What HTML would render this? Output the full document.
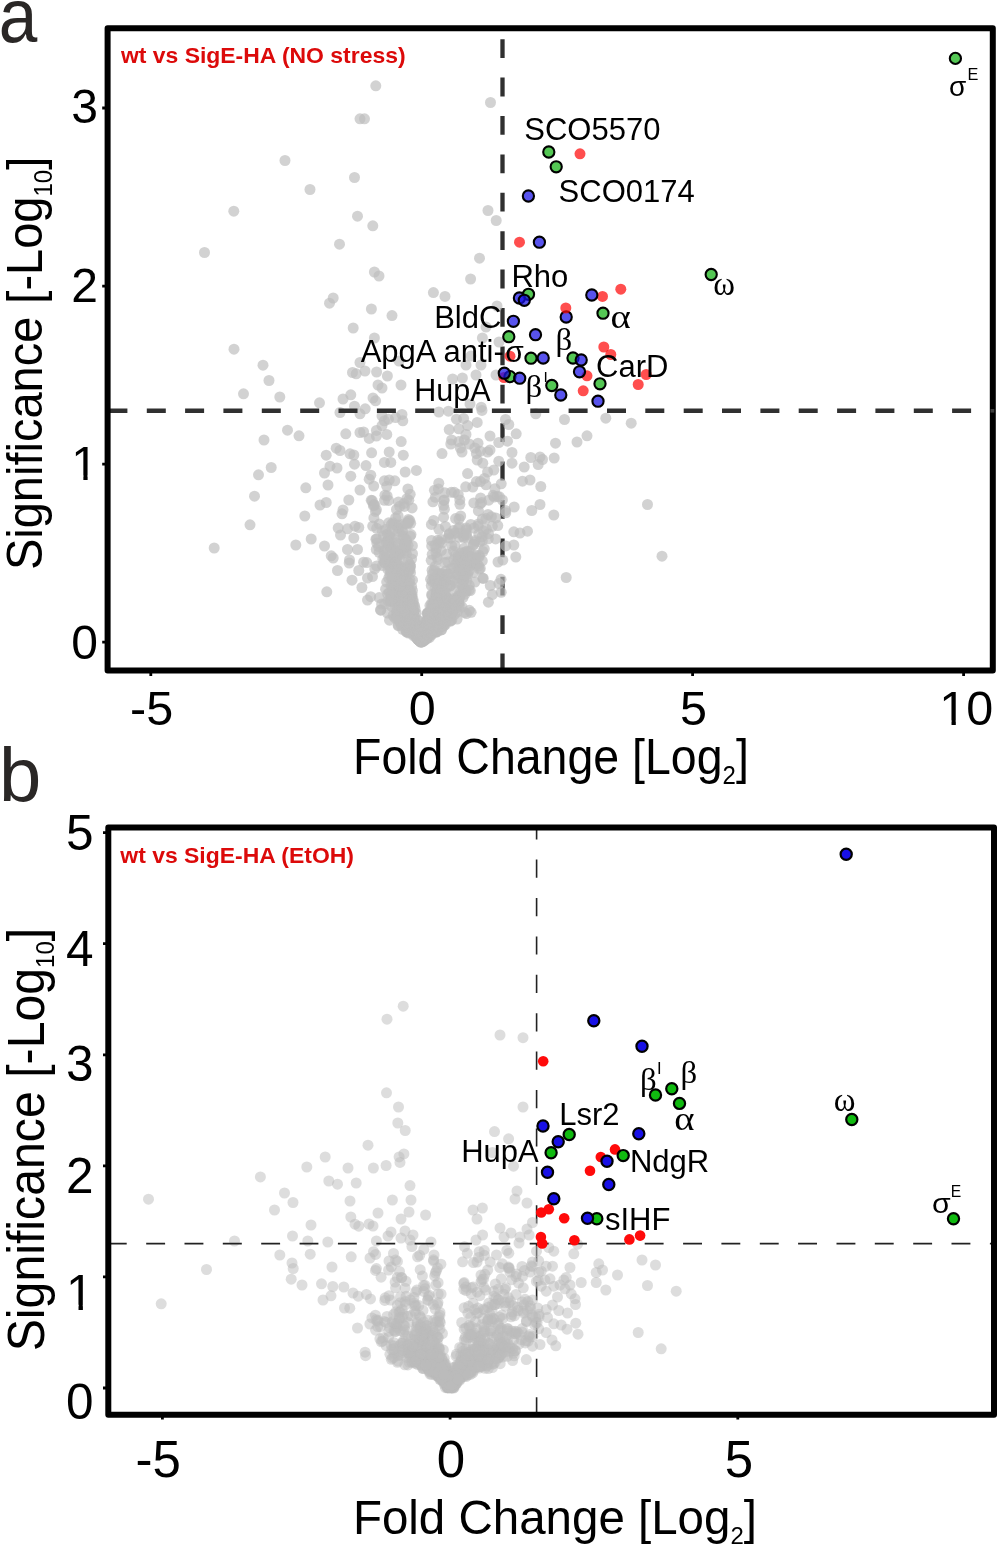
<!DOCTYPE html>
<html lang="en"><head><meta charset="utf-8"><title>Volcano plots: wt vs SigE-HA</title>
<style>html,body{margin:0;padding:0;background:#fff}svg{display:block;will-change:transform}</style></head>
<body><svg width="1000" height="1547" viewBox="0 0 1000 1547">
<rect width="1000" height="1547" fill="#fff"/>
<g id="pa">
<path d="M502.5 39.2V58.0M502.5 77.6V96.4M502.5 116.0V134.8M502.5 154.4V173.2M502.5 192.8V211.6M502.5 231.2V250.0M502.5 269.6V288.4M502.5 308.0V326.8M502.5 346.4V365.2M502.5 384.8V403.6M502.5 423.2V442.0M502.5 461.6V480.4M502.5 500.0V518.8M502.5 538.4V557.2M502.5 576.8V595.6M502.5 615.2V634.0M502.5 653.6V668.0" stroke="#303030" stroke-width="4.3" fill="none"/>
<g fill="#bdbdbd" fill-opacity="0.68"><circle cx="285.0" cy="160.5" r="5.5"/><circle cx="310.0" cy="189.5" r="5.5"/><circle cx="354.5" cy="177.5" r="5.5"/><circle cx="233.8" cy="211.2" r="5.5"/><circle cx="357.5" cy="216.2" r="5.5"/><circle cx="339.5" cy="244.2" r="5.5"/><circle cx="204.5" cy="252.5" r="5.5"/><circle cx="360.0" cy="118.8" r="5.5"/><circle cx="375.8" cy="85.8" r="5.5"/><circle cx="364.5" cy="118.8" r="5.5"/><circle cx="490.5" cy="102.5" r="5.5"/><circle cx="372.8" cy="225.8" r="5.5"/><circle cx="488.0" cy="210.5" r="5.5"/><circle cx="496.2" cy="220.5" r="5.5"/><circle cx="479.5" cy="258.2" r="5.5"/><circle cx="333.2" cy="298.0" r="5.5"/><circle cx="329.5" cy="303.2" r="5.5"/><circle cx="353.2" cy="328.0" r="5.5"/><circle cx="234.0" cy="349.2" r="5.5"/><circle cx="263.0" cy="365.2" r="5.5"/><circle cx="269.0" cy="380.5" r="5.5"/><circle cx="243.5" cy="393.8" r="5.5"/><circle cx="279.8" cy="397.0" r="5.5"/><circle cx="319.5" cy="402.8" r="5.5"/><circle cx="352.5" cy="372.5" r="5.5"/><circle cx="356.2" cy="373.8" r="5.5"/><circle cx="360.0" cy="362.5" r="5.5"/><circle cx="350.8" cy="394.8" r="5.5"/><circle cx="343.0" cy="399.0" r="5.5"/><circle cx="354.5" cy="406.2" r="5.5"/><circle cx="340.0" cy="412.5" r="5.5"/><circle cx="360.0" cy="413.8" r="5.5"/><circle cx="287.5" cy="430.2" r="5.5"/><circle cx="299.0" cy="435.8" r="5.5"/><circle cx="345.8" cy="433.8" r="5.5"/><circle cx="264.0" cy="440.0" r="5.5"/><circle cx="360.0" cy="432.5" r="5.5"/><circle cx="374.4" cy="272.0" r="5.5"/><circle cx="379.0" cy="276.0" r="5.5"/><circle cx="470.6" cy="279.0" r="5.5"/><circle cx="433.4" cy="292.6" r="5.5"/><circle cx="445.0" cy="296.4" r="5.5"/><circle cx="371.4" cy="309.0" r="5.5"/><circle cx="392.0" cy="315.6" r="5.5"/><circle cx="497.0" cy="306.0" r="5.5"/><circle cx="486.0" cy="327.0" r="5.5"/><circle cx="374.4" cy="338.0" r="5.5"/><circle cx="482.4" cy="338.0" r="5.5"/><circle cx="499.0" cy="342.0" r="5.5"/><circle cx="399.0" cy="361.0" r="5.5"/><circle cx="471.0" cy="356.0" r="5.5"/><circle cx="466.0" cy="365.0" r="5.5"/><circle cx="481.0" cy="365.0" r="5.5"/><circle cx="365.0" cy="371.0" r="5.5"/><circle cx="376.6" cy="372.0" r="5.5"/><circle cx="387.4" cy="376.0" r="5.5"/><circle cx="452.6" cy="379.0" r="5.5"/><circle cx="462.4" cy="378.0" r="5.5"/><circle cx="476.0" cy="375.0" r="5.5"/><circle cx="496.0" cy="375.0" r="5.5"/><circle cx="378.0" cy="385.0" r="5.5"/><circle cx="382.0" cy="388.0" r="5.5"/><circle cx="401.0" cy="385.0" r="5.5"/><circle cx="373.0" cy="398.0" r="5.5"/><circle cx="271.2" cy="467.5" r="5.5"/><circle cx="258.5" cy="474.8" r="5.5"/><circle cx="254.5" cy="496.2" r="5.5"/><circle cx="250.0" cy="524.8" r="5.5"/><circle cx="214.2" cy="548.0" r="5.5"/><circle cx="305.8" cy="487.8" r="5.5"/><circle cx="304.8" cy="516.0" r="5.5"/><circle cx="295.8" cy="545.0" r="5.5"/><circle cx="311.2" cy="539.0" r="5.5"/><circle cx="326.2" cy="455.2" r="5.5"/><circle cx="336.2" cy="448.2" r="5.5"/><circle cx="340.0" cy="450.5" r="5.5"/><circle cx="350.0" cy="453.8" r="5.5"/><circle cx="353.8" cy="455.0" r="5.5"/><circle cx="330.0" cy="466.2" r="5.5"/><circle cx="337.0" cy="468.0" r="5.5"/><circle cx="324.5" cy="473.0" r="5.5"/><circle cx="354.5" cy="464.2" r="5.5"/><circle cx="350.8" cy="476.2" r="5.5"/><circle cx="328.0" cy="485.0" r="5.5"/><circle cx="360.0" cy="490.0" r="5.5"/><circle cx="348.8" cy="500.0" r="5.5"/><circle cx="326.2" cy="502.5" r="5.5"/><circle cx="320.0" cy="505.0" r="5.5"/><circle cx="343.0" cy="510.0" r="5.5"/><circle cx="342.0" cy="513.8" r="5.5"/><circle cx="338.2" cy="528.0" r="5.5"/><circle cx="347.5" cy="528.8" r="5.5"/><circle cx="355.0" cy="526.2" r="5.5"/><circle cx="358.8" cy="527.5" r="5.5"/><circle cx="340.5" cy="535.0" r="5.5"/><circle cx="353.8" cy="538.0" r="5.5"/><circle cx="324.5" cy="546.0" r="5.5"/><circle cx="347.5" cy="549.5" r="5.5"/><circle cx="357.5" cy="549.5" r="5.5"/><circle cx="331.2" cy="555.8" r="5.5"/><circle cx="333.2" cy="558.0" r="5.5"/><circle cx="349.5" cy="560.0" r="5.5"/><circle cx="349.2" cy="563.0" r="5.5"/><circle cx="337.5" cy="570.5" r="5.5"/><circle cx="358.8" cy="570.5" r="5.5"/><circle cx="352.0" cy="580.2" r="5.5"/><circle cx="326.8" cy="591.8" r="5.5"/><circle cx="535.8" cy="413.8" r="5.5"/><circle cx="564.5" cy="419.5" r="5.5"/><circle cx="605.8" cy="418.2" r="5.5"/><circle cx="631.2" cy="423.2" r="5.5"/><circle cx="505.5" cy="419.5" r="5.5"/><circle cx="508.8" cy="424.5" r="5.5"/><circle cx="516.2" cy="433.8" r="5.5"/><circle cx="490.0" cy="436.0" r="5.5"/><circle cx="498.8" cy="442.5" r="5.5"/><circle cx="507.5" cy="441.2" r="5.5"/><circle cx="555.5" cy="443.2" r="5.5"/><circle cx="577.0" cy="442.0" r="5.5"/><circle cx="587.0" cy="435.8" r="5.5"/><circle cx="512.0" cy="452.5" r="5.5"/><circle cx="490.0" cy="450.0" r="5.5"/><circle cx="530.8" cy="457.5" r="5.5"/><circle cx="540.0" cy="457.0" r="5.5"/><circle cx="542.5" cy="459.5" r="5.5"/><circle cx="554.2" cy="458.0" r="5.5"/><circle cx="512.0" cy="463.2" r="5.5"/><circle cx="498.8" cy="461.2" r="5.5"/><circle cx="524.2" cy="467.0" r="5.5"/><circle cx="538.2" cy="464.5" r="5.5"/><circle cx="493.8" cy="470.0" r="5.5"/><circle cx="522.5" cy="481.2" r="5.5"/><circle cx="530.0" cy="480.0" r="5.5"/><circle cx="501.2" cy="483.8" r="5.5"/><circle cx="540.8" cy="486.5" r="5.5"/><circle cx="514.2" cy="507.0" r="5.5"/><circle cx="531.8" cy="510.5" r="5.5"/><circle cx="540.0" cy="504.5" r="5.5"/><circle cx="553.8" cy="515.0" r="5.5"/><circle cx="647.5" cy="504.5" r="5.5"/><circle cx="527.5" cy="531.2" r="5.5"/><circle cx="520.0" cy="533.0" r="5.5"/><circle cx="513.8" cy="531.8" r="5.5"/><circle cx="513.8" cy="545.0" r="5.5"/><circle cx="515.8" cy="557.0" r="5.5"/><circle cx="566.2" cy="577.5" r="5.5"/><circle cx="662.0" cy="556.2" r="5.5"/><circle cx="365.2" cy="408.8" r="5.5"/><circle cx="375.6" cy="400.8" r="5.5"/><circle cx="382.0" cy="416.0" r="5.5"/><circle cx="384.4" cy="420.8" r="5.5"/><circle cx="388.4" cy="419.2" r="5.5"/><circle cx="395.6" cy="417.6" r="5.5"/><circle cx="402.0" cy="414.4" r="5.5"/><circle cx="402.8" cy="420.8" r="5.5"/><circle cx="382.0" cy="425.6" r="5.5"/><circle cx="376.4" cy="430.4" r="5.5"/><circle cx="363.6" cy="432.0" r="5.5"/><circle cx="369.2" cy="438.4" r="5.5"/><circle cx="376.4" cy="436.0" r="5.5"/><circle cx="386.8" cy="434.4" r="5.5"/><circle cx="401.2" cy="441.6" r="5.5"/><circle cx="371.6" cy="452.8" r="5.5"/><circle cx="389.2" cy="452.0" r="5.5"/><circle cx="403.3" cy="455.2" r="5.5"/><circle cx="366.0" cy="465.6" r="5.5"/><circle cx="384.4" cy="462.4" r="5.5"/><circle cx="390.8" cy="462.4" r="5.5"/><circle cx="405.2" cy="472.0" r="5.5"/><circle cx="416.4" cy="470.4" r="5.5"/><circle cx="370.8" cy="475.2" r="5.5"/><circle cx="369.2" cy="479.2" r="5.5"/><circle cx="384.4" cy="480.8" r="5.5"/><circle cx="389.2" cy="480.0" r="5.5"/><circle cx="394.8" cy="480.8" r="5.5"/><circle cx="438.8" cy="412.0" r="5.5"/><circle cx="448.4" cy="411.2" r="5.5"/><circle cx="470.0" cy="404.0" r="5.5"/><circle cx="481.2" cy="407.2" r="5.5"/><circle cx="482.0" cy="410.4" r="5.5"/><circle cx="456.4" cy="419.2" r="5.5"/><circle cx="463.6" cy="418.4" r="5.5"/><circle cx="477.2" cy="422.4" r="5.5"/><circle cx="467.6" cy="425.6" r="5.5"/><circle cx="449.2" cy="429.6" r="5.5"/><circle cx="458.8" cy="428.8" r="5.5"/><circle cx="466.0" cy="434.4" r="5.5"/><circle cx="451.6" cy="440.0" r="5.5"/><circle cx="450.8" cy="444.0" r="5.5"/><circle cx="458.8" cy="441.6" r="5.5"/><circle cx="464.4" cy="440.0" r="5.5"/><circle cx="469.2" cy="444.0" r="5.5"/><circle cx="478.0" cy="443.2" r="5.5"/><circle cx="460.4" cy="448.0" r="5.5"/><circle cx="462.0" cy="452.0" r="5.5"/><circle cx="474.8" cy="448.0" r="5.5"/><circle cx="476.4" cy="453.6" r="5.5"/><circle cx="480.4" cy="451.2" r="5.5"/><circle cx="442.0" cy="453.6" r="5.5"/><circle cx="487.6" cy="452.0" r="5.5"/><circle cx="477.2" cy="460.0" r="5.5"/><circle cx="482.8" cy="463.2" r="5.5"/><circle cx="487.6" cy="472.0" r="5.5"/><circle cx="467.6" cy="473.6" r="5.5"/><circle cx="484.4" cy="478.4" r="5.5"/><circle cx="476.4" cy="481.6" r="5.5"/><circle cx="480.4" cy="481.6" r="5.5"/><circle cx="486.0" cy="484.8" r="5.5"/><circle cx="438.8" cy="483.2" r="5.5"/><circle cx="393.3" cy="588.5" r="5.5"/><circle cx="400.1" cy="602.9" r="5.5"/><circle cx="458.2" cy="494.4" r="5.5"/><circle cx="426.5" cy="636.4" r="5.5"/><circle cx="419.2" cy="638.1" r="5.5"/><circle cx="459.3" cy="605.5" r="5.5"/><circle cx="390.8" cy="565.1" r="5.5"/><circle cx="438.2" cy="590.3" r="5.5"/><circle cx="442.8" cy="610.4" r="5.5"/><circle cx="386.5" cy="542.4" r="5.5"/><circle cx="444.4" cy="623.8" r="5.5"/><circle cx="413.8" cy="611.3" r="5.5"/><circle cx="409.8" cy="590.5" r="5.5"/><circle cx="436.4" cy="626.5" r="5.5"/><circle cx="390.6" cy="595.8" r="5.5"/><circle cx="419.6" cy="640.7" r="5.5"/><circle cx="408.4" cy="519.5" r="5.5"/><circle cx="438.2" cy="596.5" r="5.5"/><circle cx="450.2" cy="586.0" r="5.5"/><circle cx="474.7" cy="561.7" r="5.5"/><circle cx="449.6" cy="601.6" r="5.5"/><circle cx="402.3" cy="530.3" r="5.5"/><circle cx="398.4" cy="625.2" r="5.5"/><circle cx="435.2" cy="631.2" r="5.5"/><circle cx="437.1" cy="583.3" r="5.5"/><circle cx="396.0" cy="543.0" r="5.5"/><circle cx="422.5" cy="633.7" r="5.5"/><circle cx="404.6" cy="576.9" r="5.5"/><circle cx="410.2" cy="494.3" r="5.5"/><circle cx="397.1" cy="611.6" r="5.5"/><circle cx="455.6" cy="518.6" r="5.5"/><circle cx="415.7" cy="634.2" r="5.5"/><circle cx="403.7" cy="524.1" r="5.5"/><circle cx="495.8" cy="518.0" r="5.5"/><circle cx="502.8" cy="560.1" r="5.5"/><circle cx="498.9" cy="583.6" r="5.5"/><circle cx="423.2" cy="634.6" r="5.5"/><circle cx="446.9" cy="614.3" r="5.5"/><circle cx="392.1" cy="558.6" r="5.5"/><circle cx="388.6" cy="500.4" r="5.5"/><circle cx="421.1" cy="641.9" r="5.5"/><circle cx="474.9" cy="582.1" r="5.5"/><circle cx="428.7" cy="613.6" r="5.5"/><circle cx="402.5" cy="629.3" r="5.5"/><circle cx="390.2" cy="601.1" r="5.5"/><circle cx="395.2" cy="551.3" r="5.5"/><circle cx="397.8" cy="553.4" r="5.5"/><circle cx="404.4" cy="506.4" r="5.5"/><circle cx="410.2" cy="628.6" r="5.5"/><circle cx="399.2" cy="583.2" r="5.5"/><circle cx="427.3" cy="618.8" r="5.5"/><circle cx="460.7" cy="516.0" r="5.5"/><circle cx="446.8" cy="602.5" r="5.5"/><circle cx="422.9" cy="633.7" r="5.5"/><circle cx="405.4" cy="625.4" r="5.5"/><circle cx="390.9" cy="547.3" r="5.5"/><circle cx="409.1" cy="617.6" r="5.5"/><circle cx="361.9" cy="587.5" r="5.5"/><circle cx="433.4" cy="629.9" r="5.5"/><circle cx="379.2" cy="524.1" r="5.5"/><circle cx="403.3" cy="552.9" r="5.5"/><circle cx="390.8" cy="537.5" r="5.5"/><circle cx="421.7" cy="640.5" r="5.5"/><circle cx="422.2" cy="637.5" r="5.5"/><circle cx="382.8" cy="558.9" r="5.5"/><circle cx="367.5" cy="578.0" r="5.5"/><circle cx="436.0" cy="552.7" r="5.5"/><circle cx="409.2" cy="619.6" r="5.5"/><circle cx="404.9" cy="572.1" r="5.5"/><circle cx="466.0" cy="533.5" r="5.5"/><circle cx="424.5" cy="629.2" r="5.5"/><circle cx="441.3" cy="619.1" r="5.5"/><circle cx="431.9" cy="595.4" r="5.5"/><circle cx="380.8" cy="610.2" r="5.5"/><circle cx="400.4" cy="613.8" r="5.5"/><circle cx="431.5" cy="623.1" r="5.5"/><circle cx="428.1" cy="636.4" r="5.5"/><circle cx="493.1" cy="495.3" r="5.5"/><circle cx="412.6" cy="606.0" r="5.5"/><circle cx="430.6" cy="579.3" r="5.5"/><circle cx="437.9" cy="623.6" r="5.5"/><circle cx="430.1" cy="633.6" r="5.5"/><circle cx="450.1" cy="620.9" r="5.5"/><circle cx="384.8" cy="563.1" r="5.5"/><circle cx="420.4" cy="642.1" r="5.5"/><circle cx="454.3" cy="492.3" r="5.5"/><circle cx="458.8" cy="533.2" r="5.5"/><circle cx="394.9" cy="562.6" r="5.5"/><circle cx="413.3" cy="631.5" r="5.5"/><circle cx="400.3" cy="607.2" r="5.5"/><circle cx="443.7" cy="500.4" r="5.5"/><circle cx="393.1" cy="588.3" r="5.5"/><circle cx="381.6" cy="604.1" r="5.5"/><circle cx="486.4" cy="529.1" r="5.5"/><circle cx="370.7" cy="596.7" r="5.5"/><circle cx="453.8" cy="607.3" r="5.5"/><circle cx="394.5" cy="555.2" r="5.5"/><circle cx="442.6" cy="608.1" r="5.5"/><circle cx="408.0" cy="561.5" r="5.5"/><circle cx="461.1" cy="552.9" r="5.5"/><circle cx="395.6" cy="570.4" r="5.5"/><circle cx="428.2" cy="635.1" r="5.5"/><circle cx="404.9" cy="597.6" r="5.5"/><circle cx="417.9" cy="639.3" r="5.5"/><circle cx="415.0" cy="634.7" r="5.5"/><circle cx="454.4" cy="614.6" r="5.5"/><circle cx="409.5" cy="625.6" r="5.5"/><circle cx="427.5" cy="612.8" r="5.5"/><circle cx="451.3" cy="492.3" r="5.5"/><circle cx="409.3" cy="583.0" r="5.5"/><circle cx="417.2" cy="625.1" r="5.5"/><circle cx="414.7" cy="616.6" r="5.5"/><circle cx="408.4" cy="625.4" r="5.5"/><circle cx="440.7" cy="621.0" r="5.5"/><circle cx="387.6" cy="540.2" r="5.5"/><circle cx="410.9" cy="623.9" r="5.5"/><circle cx="389.6" cy="534.7" r="5.5"/><circle cx="407.9" cy="489.0" r="5.5"/><circle cx="462.6" cy="569.5" r="5.5"/><circle cx="407.5" cy="588.3" r="5.5"/><circle cx="408.1" cy="545.3" r="5.5"/><circle cx="433.8" cy="603.4" r="5.5"/><circle cx="433.2" cy="603.0" r="5.5"/><circle cx="402.5" cy="531.8" r="5.5"/><circle cx="429.9" cy="605.6" r="5.5"/><circle cx="444.8" cy="562.6" r="5.5"/><circle cx="402.2" cy="618.4" r="5.5"/><circle cx="416.2" cy="624.8" r="5.5"/><circle cx="404.2" cy="574.2" r="5.5"/><circle cx="411.6" cy="596.4" r="5.5"/><circle cx="433.8" cy="611.6" r="5.5"/><circle cx="436.6" cy="591.4" r="5.5"/><circle cx="459.2" cy="537.3" r="5.5"/><circle cx="422.7" cy="640.6" r="5.5"/><circle cx="479.3" cy="555.3" r="5.5"/><circle cx="436.5" cy="595.8" r="5.5"/><circle cx="480.6" cy="498.0" r="5.5"/><circle cx="417.2" cy="624.9" r="5.5"/><circle cx="431.2" cy="623.4" r="5.5"/><circle cx="442.6" cy="607.3" r="5.5"/><circle cx="419.6" cy="634.2" r="5.5"/><circle cx="426.6" cy="620.5" r="5.5"/><circle cx="484.3" cy="548.8" r="5.5"/><circle cx="409.8" cy="608.3" r="5.5"/><circle cx="463.5" cy="558.8" r="5.5"/><circle cx="417.4" cy="619.9" r="5.5"/><circle cx="402.7" cy="568.3" r="5.5"/><circle cx="494.2" cy="497.1" r="5.5"/><circle cx="406.8" cy="632.0" r="5.5"/><circle cx="446.3" cy="613.5" r="5.5"/><circle cx="412.6" cy="619.4" r="5.5"/><circle cx="446.2" cy="597.3" r="5.5"/><circle cx="430.5" cy="623.3" r="5.5"/><circle cx="445.3" cy="580.1" r="5.5"/><circle cx="447.3" cy="598.2" r="5.5"/><circle cx="445.9" cy="596.7" r="5.5"/><circle cx="439.3" cy="626.3" r="5.5"/><circle cx="430.9" cy="615.2" r="5.5"/><circle cx="410.2" cy="625.2" r="5.5"/><circle cx="435.0" cy="588.0" r="5.5"/><circle cx="426.8" cy="632.4" r="5.5"/><circle cx="423.5" cy="631.9" r="5.5"/><circle cx="382.5" cy="565.6" r="5.5"/><circle cx="401.9" cy="605.1" r="5.5"/><circle cx="432.2" cy="581.3" r="5.5"/><circle cx="372.5" cy="576.6" r="5.5"/><circle cx="431.7" cy="629.8" r="5.5"/><circle cx="438.4" cy="488.9" r="5.5"/><circle cx="394.3" cy="604.8" r="5.5"/><circle cx="441.7" cy="574.0" r="5.5"/><circle cx="402.2" cy="592.8" r="5.5"/><circle cx="402.5" cy="588.5" r="5.5"/><circle cx="465.7" cy="486.8" r="5.5"/><circle cx="412.4" cy="590.4" r="5.5"/><circle cx="433.6" cy="630.7" r="5.5"/><circle cx="373.4" cy="505.7" r="5.5"/><circle cx="386.7" cy="582.1" r="5.5"/><circle cx="423.3" cy="640.2" r="5.5"/><circle cx="420.9" cy="641.5" r="5.5"/><circle cx="436.0" cy="594.0" r="5.5"/><circle cx="457.2" cy="574.8" r="5.5"/><circle cx="409.7" cy="520.5" r="5.5"/><circle cx="396.5" cy="616.2" r="5.5"/><circle cx="398.2" cy="594.8" r="5.5"/><circle cx="431.7" cy="545.9" r="5.5"/><circle cx="482.1" cy="536.7" r="5.5"/><circle cx="438.1" cy="631.2" r="5.5"/><circle cx="429.8" cy="621.6" r="5.5"/><circle cx="463.8" cy="578.0" r="5.5"/><circle cx="400.6" cy="572.4" r="5.5"/><circle cx="444.2" cy="618.6" r="5.5"/><circle cx="424.3" cy="639.9" r="5.5"/><circle cx="444.3" cy="500.0" r="5.5"/><circle cx="474.4" cy="563.7" r="5.5"/><circle cx="398.5" cy="589.8" r="5.5"/><circle cx="398.9" cy="524.9" r="5.5"/><circle cx="410.3" cy="618.8" r="5.5"/><circle cx="403.9" cy="604.0" r="5.5"/><circle cx="434.5" cy="580.8" r="5.5"/><circle cx="418.6" cy="631.9" r="5.5"/><circle cx="427.9" cy="635.3" r="5.5"/><circle cx="472.5" cy="564.3" r="5.5"/><circle cx="420.0" cy="633.0" r="5.5"/><circle cx="418.3" cy="636.5" r="5.5"/><circle cx="406.4" cy="572.6" r="5.5"/><circle cx="440.1" cy="619.5" r="5.5"/><circle cx="409.8" cy="564.3" r="5.5"/><circle cx="435.3" cy="497.3" r="5.5"/><circle cx="456.4" cy="599.4" r="5.5"/><circle cx="448.5" cy="610.5" r="5.5"/><circle cx="425.2" cy="625.8" r="5.5"/><circle cx="425.8" cy="635.4" r="5.5"/><circle cx="406.4" cy="580.1" r="5.5"/><circle cx="427.0" cy="634.3" r="5.5"/><circle cx="406.2" cy="631.5" r="5.5"/><circle cx="420.1" cy="639.7" r="5.5"/><circle cx="413.3" cy="601.9" r="5.5"/><circle cx="397.1" cy="611.6" r="5.5"/><circle cx="376.6" cy="566.0" r="5.5"/><circle cx="478.4" cy="510.9" r="5.5"/><circle cx="406.0" cy="546.9" r="5.5"/><circle cx="437.2" cy="616.9" r="5.5"/><circle cx="427.3" cy="613.7" r="5.5"/><circle cx="463.4" cy="588.9" r="5.5"/><circle cx="464.0" cy="580.3" r="5.5"/><circle cx="424.0" cy="639.7" r="5.5"/><circle cx="404.0" cy="503.4" r="5.5"/><circle cx="411.6" cy="586.6" r="5.5"/><circle cx="384.5" cy="500.3" r="5.5"/><circle cx="428.2" cy="637.2" r="5.5"/><circle cx="447.3" cy="586.8" r="5.5"/><circle cx="479.2" cy="556.9" r="5.5"/><circle cx="373.8" cy="504.4" r="5.5"/><circle cx="458.5" cy="601.9" r="5.5"/><circle cx="445.6" cy="571.1" r="5.5"/><circle cx="409.9" cy="569.6" r="5.5"/><circle cx="444.0" cy="600.5" r="5.5"/><circle cx="396.4" cy="591.5" r="5.5"/><circle cx="425.7" cy="634.1" r="5.5"/><circle cx="414.3" cy="635.0" r="5.5"/><circle cx="425.3" cy="637.1" r="5.5"/><circle cx="445.2" cy="624.9" r="5.5"/><circle cx="401.0" cy="585.1" r="5.5"/><circle cx="443.3" cy="592.2" r="5.5"/><circle cx="469.1" cy="570.8" r="5.5"/><circle cx="408.5" cy="571.3" r="5.5"/><circle cx="408.9" cy="624.8" r="5.5"/><circle cx="478.8" cy="533.8" r="5.5"/><circle cx="442.8" cy="583.2" r="5.5"/><circle cx="442.9" cy="616.6" r="5.5"/><circle cx="442.6" cy="578.0" r="5.5"/><circle cx="455.7" cy="564.1" r="5.5"/><circle cx="380.6" cy="609.9" r="5.5"/><circle cx="432.9" cy="501.8" r="5.5"/><circle cx="450.9" cy="601.7" r="5.5"/><circle cx="441.0" cy="593.2" r="5.5"/><circle cx="433.0" cy="631.1" r="5.5"/><circle cx="462.7" cy="574.3" r="5.5"/><circle cx="427.0" cy="623.6" r="5.5"/><circle cx="394.2" cy="602.5" r="5.5"/><circle cx="459.7" cy="527.3" r="5.5"/><circle cx="435.3" cy="566.3" r="5.5"/><circle cx="457.9" cy="558.1" r="5.5"/><circle cx="410.3" cy="597.9" r="5.5"/><circle cx="427.1" cy="633.0" r="5.5"/><circle cx="391.5" cy="564.4" r="5.5"/><circle cx="375.4" cy="511.4" r="5.5"/><circle cx="459.0" cy="599.8" r="5.5"/><circle cx="458.6" cy="568.3" r="5.5"/><circle cx="406.4" cy="553.4" r="5.5"/><circle cx="409.1" cy="568.9" r="5.5"/><circle cx="460.0" cy="596.6" r="5.5"/><circle cx="451.9" cy="605.7" r="5.5"/><circle cx="451.9" cy="619.9" r="5.5"/><circle cx="426.2" cy="638.8" r="5.5"/><circle cx="387.7" cy="562.1" r="5.5"/><circle cx="402.5" cy="609.6" r="5.5"/><circle cx="391.8" cy="579.1" r="5.5"/><circle cx="410.7" cy="523.3" r="5.5"/><circle cx="408.5" cy="633.1" r="5.5"/><circle cx="405.1" cy="619.5" r="5.5"/><circle cx="424.6" cy="637.6" r="5.5"/><circle cx="417.5" cy="627.0" r="5.5"/><circle cx="423.4" cy="635.5" r="5.5"/><circle cx="443.6" cy="517.2" r="5.5"/><circle cx="452.6" cy="573.6" r="5.5"/><circle cx="416.2" cy="613.2" r="5.5"/><circle cx="483.3" cy="578.4" r="5.5"/><circle cx="470.3" cy="590.6" r="5.5"/><circle cx="440.2" cy="621.1" r="5.5"/><circle cx="400.4" cy="612.2" r="5.5"/><circle cx="411.0" cy="534.6" r="5.5"/><circle cx="440.8" cy="617.0" r="5.5"/><circle cx="413.1" cy="612.7" r="5.5"/><circle cx="403.4" cy="572.4" r="5.5"/><circle cx="390.2" cy="547.7" r="5.5"/><circle cx="418.3" cy="627.6" r="5.5"/><circle cx="439.2" cy="542.3" r="5.5"/><circle cx="387.5" cy="534.1" r="5.5"/><circle cx="443.7" cy="626.0" r="5.5"/><circle cx="419.7" cy="640.2" r="5.5"/><circle cx="408.2" cy="522.6" r="5.5"/><circle cx="441.3" cy="550.6" r="5.5"/><circle cx="394.8" cy="600.8" r="5.5"/><circle cx="470.0" cy="551.2" r="5.5"/><circle cx="391.3" cy="567.2" r="5.5"/><circle cx="403.6" cy="569.2" r="5.5"/><circle cx="445.4" cy="526.5" r="5.5"/><circle cx="416.1" cy="634.9" r="5.5"/><circle cx="404.5" cy="544.0" r="5.5"/><circle cx="386.4" cy="541.2" r="5.5"/><circle cx="450.7" cy="612.3" r="5.5"/><circle cx="427.3" cy="632.6" r="5.5"/><circle cx="403.9" cy="548.0" r="5.5"/><circle cx="410.2" cy="566.6" r="5.5"/><circle cx="411.7" cy="616.2" r="5.5"/><circle cx="412.0" cy="624.2" r="5.5"/><circle cx="410.4" cy="604.5" r="5.5"/><circle cx="444.4" cy="509.2" r="5.5"/><circle cx="427.5" cy="620.8" r="5.5"/><circle cx="393.1" cy="615.4" r="5.5"/><circle cx="424.8" cy="633.7" r="5.5"/><circle cx="406.6" cy="623.0" r="5.5"/><circle cx="390.0" cy="575.3" r="5.5"/><circle cx="386.7" cy="486.3" r="5.5"/><circle cx="415.1" cy="633.2" r="5.5"/><circle cx="429.0" cy="614.1" r="5.5"/><circle cx="407.4" cy="599.6" r="5.5"/><circle cx="431.6" cy="612.6" r="5.5"/><circle cx="451.2" cy="568.4" r="5.5"/><circle cx="453.9" cy="559.5" r="5.5"/><circle cx="409.5" cy="599.5" r="5.5"/><circle cx="407.4" cy="585.9" r="5.5"/><circle cx="434.6" cy="615.6" r="5.5"/><circle cx="423.6" cy="637.1" r="5.5"/><circle cx="410.3" cy="629.4" r="5.5"/><circle cx="374.8" cy="568.9" r="5.5"/><circle cx="478.7" cy="565.8" r="5.5"/><circle cx="426.3" cy="636.3" r="5.5"/><circle cx="401.6" cy="570.3" r="5.5"/><circle cx="401.3" cy="625.0" r="5.5"/><circle cx="447.1" cy="580.6" r="5.5"/><circle cx="466.2" cy="591.1" r="5.5"/><circle cx="404.7" cy="625.8" r="5.5"/><circle cx="429.4" cy="632.1" r="5.5"/><circle cx="499.5" cy="496.8" r="5.5"/><circle cx="442.8" cy="604.9" r="5.5"/><circle cx="401.5" cy="606.4" r="5.5"/><circle cx="497.2" cy="496.3" r="5.5"/><circle cx="438.7" cy="628.1" r="5.5"/><circle cx="411.7" cy="596.5" r="5.5"/><circle cx="417.5" cy="639.2" r="5.5"/><circle cx="436.6" cy="592.4" r="5.5"/><circle cx="399.9" cy="554.9" r="5.5"/><circle cx="452.8" cy="608.0" r="5.5"/><circle cx="404.6" cy="603.7" r="5.5"/><circle cx="401.3" cy="590.5" r="5.5"/><circle cx="397.9" cy="555.2" r="5.5"/><circle cx="385.6" cy="589.2" r="5.5"/><circle cx="470.0" cy="565.8" r="5.5"/><circle cx="416.8" cy="633.3" r="5.5"/><circle cx="440.3" cy="582.4" r="5.5"/><circle cx="392.8" cy="584.7" r="5.5"/><circle cx="463.8" cy="537.6" r="5.5"/><circle cx="410.2" cy="536.2" r="5.5"/><circle cx="423.8" cy="638.5" r="5.5"/><circle cx="463.9" cy="552.6" r="5.5"/><circle cx="407.5" cy="631.3" r="5.5"/><circle cx="410.8" cy="602.0" r="5.5"/><circle cx="419.2" cy="640.7" r="5.5"/><circle cx="481.6" cy="502.4" r="5.5"/><circle cx="419.5" cy="637.5" r="5.5"/><circle cx="415.6" cy="622.2" r="5.5"/><circle cx="400.0" cy="598.5" r="5.5"/><circle cx="440.2" cy="615.6" r="5.5"/><circle cx="442.2" cy="617.1" r="5.5"/><circle cx="412.5" cy="580.2" r="5.5"/><circle cx="444.8" cy="607.0" r="5.5"/><circle cx="398.2" cy="528.1" r="5.5"/><circle cx="457.1" cy="612.0" r="5.5"/><circle cx="438.7" cy="584.5" r="5.5"/><circle cx="426.4" cy="634.5" r="5.5"/><circle cx="375.9" cy="539.2" r="5.5"/><circle cx="407.0" cy="626.7" r="5.5"/><circle cx="421.2" cy="641.1" r="5.5"/><circle cx="417.7" cy="633.9" r="5.5"/><circle cx="421.3" cy="639.4" r="5.5"/><circle cx="502.4" cy="500.0" r="5.5"/><circle cx="473.8" cy="502.9" r="5.5"/><circle cx="473.9" cy="528.0" r="5.5"/><circle cx="463.7" cy="563.5" r="5.5"/><circle cx="387.1" cy="495.8" r="5.5"/><circle cx="417.3" cy="636.9" r="5.5"/><circle cx="403.3" cy="563.4" r="5.5"/><circle cx="414.6" cy="606.0" r="5.5"/><circle cx="463.5" cy="581.2" r="5.5"/><circle cx="438.8" cy="619.2" r="5.5"/><circle cx="438.5" cy="625.5" r="5.5"/><circle cx="465.9" cy="568.0" r="5.5"/><circle cx="404.3" cy="593.9" r="5.5"/><circle cx="435.0" cy="545.3" r="5.5"/><circle cx="372.7" cy="526.1" r="5.5"/><circle cx="466.6" cy="551.3" r="5.5"/><circle cx="475.8" cy="555.2" r="5.5"/><circle cx="403.0" cy="599.4" r="5.5"/><circle cx="460.9" cy="557.1" r="5.5"/><circle cx="469.4" cy="555.7" r="5.5"/><circle cx="409.7" cy="627.9" r="5.5"/><circle cx="432.9" cy="631.0" r="5.5"/><circle cx="443.6" cy="606.9" r="5.5"/><circle cx="411.0" cy="617.6" r="5.5"/><circle cx="425.1" cy="638.9" r="5.5"/><circle cx="470.8" cy="524.4" r="5.5"/><circle cx="420.1" cy="635.8" r="5.5"/><circle cx="402.9" cy="591.5" r="5.5"/><circle cx="407.5" cy="612.5" r="5.5"/><circle cx="407.1" cy="624.7" r="5.5"/><circle cx="449.2" cy="534.4" r="5.5"/><circle cx="398.1" cy="585.0" r="5.5"/><circle cx="451.7" cy="545.9" r="5.5"/><circle cx="422.4" cy="640.7" r="5.5"/><circle cx="431.8" cy="634.5" r="5.5"/><circle cx="442.8" cy="600.4" r="5.5"/><circle cx="428.8" cy="623.6" r="5.5"/><circle cx="414.7" cy="634.2" r="5.5"/><circle cx="436.9" cy="556.9" r="5.5"/><circle cx="422.9" cy="640.7" r="5.5"/><circle cx="441.8" cy="580.2" r="5.5"/><circle cx="459.8" cy="499.9" r="5.5"/><circle cx="459.7" cy="593.1" r="5.5"/><circle cx="394.8" cy="601.9" r="5.5"/><circle cx="434.6" cy="613.8" r="5.5"/><circle cx="413.8" cy="611.3" r="5.5"/><circle cx="448.1" cy="607.6" r="5.5"/><circle cx="413.6" cy="635.9" r="5.5"/><circle cx="401.6" cy="611.2" r="5.5"/><circle cx="422.5" cy="640.3" r="5.5"/><circle cx="405.5" cy="590.4" r="5.5"/><circle cx="414.5" cy="625.9" r="5.5"/><circle cx="434.4" cy="490.3" r="5.5"/><circle cx="425.2" cy="633.7" r="5.5"/><circle cx="456.9" cy="578.1" r="5.5"/><circle cx="426.4" cy="632.0" r="5.5"/><circle cx="446.6" cy="554.3" r="5.5"/><circle cx="450.8" cy="605.8" r="5.5"/><circle cx="418.3" cy="629.3" r="5.5"/><circle cx="409.0" cy="615.9" r="5.5"/><circle cx="436.1" cy="605.2" r="5.5"/><circle cx="424.4" cy="639.9" r="5.5"/><circle cx="458.2" cy="596.2" r="5.5"/><circle cx="425.6" cy="638.6" r="5.5"/><circle cx="404.4" cy="613.1" r="5.5"/><circle cx="482.9" cy="551.5" r="5.5"/><circle cx="409.8" cy="580.2" r="5.5"/><circle cx="490.3" cy="585.5" r="5.5"/><circle cx="394.4" cy="583.5" r="5.5"/><circle cx="444.3" cy="605.1" r="5.5"/><circle cx="479.8" cy="541.7" r="5.5"/><circle cx="436.0" cy="632.3" r="5.5"/><circle cx="392.6" cy="546.0" r="5.5"/><circle cx="386.7" cy="560.8" r="5.5"/><circle cx="423.5" cy="637.1" r="5.5"/><circle cx="488.8" cy="500.2" r="5.5"/><circle cx="376.8" cy="543.1" r="5.5"/><circle cx="416.7" cy="636.3" r="5.5"/><circle cx="462.0" cy="560.6" r="5.5"/><circle cx="405.7" cy="629.0" r="5.5"/><circle cx="429.7" cy="633.1" r="5.5"/><circle cx="398.4" cy="531.0" r="5.5"/><circle cx="376.4" cy="509.8" r="5.5"/><circle cx="457.1" cy="619.1" r="5.5"/><circle cx="420.8" cy="641.4" r="5.5"/><circle cx="417.3" cy="639.0" r="5.5"/><circle cx="409.0" cy="620.2" r="5.5"/><circle cx="417.2" cy="635.3" r="5.5"/><circle cx="420.6" cy="641.2" r="5.5"/><circle cx="400.3" cy="596.4" r="5.5"/><circle cx="444.8" cy="492.7" r="5.5"/><circle cx="415.4" cy="629.6" r="5.5"/><circle cx="401.8" cy="570.5" r="5.5"/><circle cx="379.1" cy="552.3" r="5.5"/><circle cx="464.6" cy="588.7" r="5.5"/><circle cx="401.3" cy="539.3" r="5.5"/><circle cx="488.4" cy="602.2" r="5.5"/><circle cx="427.2" cy="619.9" r="5.5"/><circle cx="418.9" cy="638.8" r="5.5"/><circle cx="440.7" cy="626.7" r="5.5"/><circle cx="429.4" cy="637.5" r="5.5"/><circle cx="462.1" cy="607.2" r="5.5"/><circle cx="438.2" cy="618.3" r="5.5"/><circle cx="409.5" cy="601.0" r="5.5"/><circle cx="439.7" cy="621.0" r="5.5"/><circle cx="485.9" cy="518.6" r="5.5"/><circle cx="408.0" cy="624.0" r="5.5"/><circle cx="439.8" cy="582.8" r="5.5"/><circle cx="379.2" cy="597.6" r="5.5"/><circle cx="462.1" cy="579.2" r="5.5"/><circle cx="467.4" cy="538.3" r="5.5"/><circle cx="405.6" cy="550.8" r="5.5"/><circle cx="469.8" cy="560.1" r="5.5"/><circle cx="434.5" cy="615.4" r="5.5"/><circle cx="480.2" cy="503.9" r="5.5"/><circle cx="501.0" cy="579.3" r="5.5"/><circle cx="448.8" cy="603.6" r="5.5"/><circle cx="416.7" cy="637.9" r="5.5"/><circle cx="488.0" cy="514.5" r="5.5"/><circle cx="396.4" cy="525.3" r="5.5"/><circle cx="408.1" cy="521.3" r="5.5"/><circle cx="492.3" cy="526.3" r="5.5"/><circle cx="450.5" cy="585.4" r="5.5"/><circle cx="404.7" cy="608.6" r="5.5"/><circle cx="477.1" cy="564.0" r="5.5"/><circle cx="459.9" cy="504.3" r="5.5"/><circle cx="495.6" cy="538.9" r="5.5"/><circle cx="391.0" cy="585.6" r="5.5"/><circle cx="429.5" cy="631.5" r="5.5"/><circle cx="402.1" cy="616.4" r="5.5"/><circle cx="459.0" cy="519.0" r="5.5"/><circle cx="398.8" cy="578.0" r="5.5"/><circle cx="397.6" cy="564.0" r="5.5"/><circle cx="437.2" cy="612.7" r="5.5"/><circle cx="403.6" cy="536.4" r="5.5"/><circle cx="387.4" cy="613.0" r="5.5"/><circle cx="399.7" cy="598.5" r="5.5"/><circle cx="442.3" cy="591.1" r="5.5"/><circle cx="418.5" cy="634.2" r="5.5"/><circle cx="398.1" cy="516.0" r="5.5"/><circle cx="404.0" cy="598.1" r="5.5"/><circle cx="441.6" cy="598.1" r="5.5"/><circle cx="419.8" cy="640.6" r="5.5"/><circle cx="424.0" cy="640.4" r="5.5"/><circle cx="439.9" cy="601.0" r="5.5"/><circle cx="435.3" cy="620.9" r="5.5"/><circle cx="429.0" cy="614.3" r="5.5"/><circle cx="373.7" cy="486.1" r="5.5"/><circle cx="455.8" cy="603.0" r="5.5"/><circle cx="383.7" cy="550.6" r="5.5"/><circle cx="406.9" cy="498.7" r="5.5"/><circle cx="429.7" cy="630.0" r="5.5"/><circle cx="430.8" cy="616.5" r="5.5"/><circle cx="389.5" cy="620.2" r="5.5"/><circle cx="505.8" cy="545.9" r="5.5"/><circle cx="467.6" cy="574.6" r="5.5"/><circle cx="412.1" cy="507.9" r="5.5"/><circle cx="431.7" cy="603.0" r="5.5"/><circle cx="434.8" cy="628.6" r="5.5"/><circle cx="426.1" cy="622.9" r="5.5"/><circle cx="419.0" cy="636.9" r="5.5"/><circle cx="450.5" cy="538.2" r="5.5"/><circle cx="432.8" cy="614.8" r="5.5"/><circle cx="387.7" cy="594.0" r="5.5"/><circle cx="492.3" cy="594.6" r="5.5"/><circle cx="412.2" cy="594.9" r="5.5"/><circle cx="431.2" cy="560.3" r="5.5"/><circle cx="457.7" cy="560.9" r="5.5"/><circle cx="445.0" cy="615.8" r="5.5"/><circle cx="431.3" cy="585.6" r="5.5"/><circle cx="407.0" cy="572.8" r="5.5"/><circle cx="473.5" cy="544.4" r="5.5"/><circle cx="413.3" cy="629.4" r="5.5"/><circle cx="424.1" cy="640.0" r="5.5"/><circle cx="389.7" cy="566.0" r="5.5"/><circle cx="424.0" cy="631.5" r="5.5"/><circle cx="425.3" cy="631.8" r="5.5"/><circle cx="431.4" cy="524.4" r="5.5"/><circle cx="474.6" cy="542.0" r="5.5"/><circle cx="428.9" cy="614.2" r="5.5"/><circle cx="419.0" cy="638.7" r="5.5"/><circle cx="460.0" cy="564.3" r="5.5"/><circle cx="443.9" cy="617.9" r="5.5"/><circle cx="396.8" cy="615.4" r="5.5"/><circle cx="392.9" cy="522.8" r="5.5"/><circle cx="407.0" cy="631.1" r="5.5"/><circle cx="394.1" cy="556.2" r="5.5"/><circle cx="401.1" cy="580.8" r="5.5"/><circle cx="409.7" cy="606.8" r="5.5"/><circle cx="406.6" cy="541.3" r="5.5"/><circle cx="434.7" cy="628.9" r="5.5"/><circle cx="437.8" cy="540.2" r="5.5"/><circle cx="428.3" cy="629.4" r="5.5"/><circle cx="488.3" cy="538.8" r="5.5"/><circle cx="408.8" cy="500.2" r="5.5"/><circle cx="453.5" cy="580.1" r="5.5"/><circle cx="465.3" cy="561.2" r="5.5"/><circle cx="463.4" cy="570.3" r="5.5"/><circle cx="441.4" cy="629.8" r="5.5"/><circle cx="409.0" cy="600.0" r="5.5"/><circle cx="459.0" cy="603.4" r="5.5"/><circle cx="390.2" cy="569.4" r="5.5"/><circle cx="398.2" cy="625.7" r="5.5"/><circle cx="403.8" cy="588.9" r="5.5"/><circle cx="409.9" cy="619.5" r="5.5"/><circle cx="425.6" cy="635.3" r="5.5"/><circle cx="452.8" cy="604.2" r="5.5"/><circle cx="438.0" cy="577.9" r="5.5"/><circle cx="416.8" cy="635.1" r="5.5"/><circle cx="427.2" cy="621.5" r="5.5"/><circle cx="414.2" cy="624.9" r="5.5"/><circle cx="497.8" cy="525.6" r="5.5"/><circle cx="435.4" cy="578.1" r="5.5"/><circle cx="413.4" cy="632.6" r="5.5"/><circle cx="488.5" cy="533.7" r="5.5"/><circle cx="441.4" cy="626.3" r="5.5"/><circle cx="439.7" cy="594.4" r="5.5"/><circle cx="393.5" cy="524.7" r="5.5"/><circle cx="400.3" cy="566.4" r="5.5"/><circle cx="435.6" cy="611.6" r="5.5"/><circle cx="447.0" cy="617.5" r="5.5"/><circle cx="376.3" cy="549.5" r="5.5"/><circle cx="433.2" cy="621.9" r="5.5"/><circle cx="373.9" cy="517.9" r="5.5"/><circle cx="391.7" cy="594.1" r="5.5"/><circle cx="417.7" cy="625.5" r="5.5"/><circle cx="438.1" cy="598.7" r="5.5"/><circle cx="425.9" cy="634.8" r="5.5"/><circle cx="400.7" cy="619.6" r="5.5"/><circle cx="392.9" cy="598.0" r="5.5"/><circle cx="391.8" cy="557.1" r="5.5"/><circle cx="450.7" cy="600.4" r="5.5"/><circle cx="398.2" cy="569.7" r="5.5"/><circle cx="443.6" cy="505.3" r="5.5"/><circle cx="449.4" cy="533.6" r="5.5"/><circle cx="410.1" cy="607.1" r="5.5"/><circle cx="367.5" cy="600.1" r="5.5"/><circle cx="435.3" cy="601.5" r="5.5"/><circle cx="424.6" cy="627.0" r="5.5"/><circle cx="479.2" cy="569.2" r="5.5"/><circle cx="439.2" cy="574.9" r="5.5"/><circle cx="388.0" cy="569.4" r="5.5"/><circle cx="399.4" cy="621.3" r="5.5"/><circle cx="399.1" cy="544.3" r="5.5"/><circle cx="435.5" cy="619.1" r="5.5"/><circle cx="385.6" cy="529.6" r="5.5"/><circle cx="455.0" cy="545.7" r="5.5"/><circle cx="436.3" cy="584.0" r="5.5"/><circle cx="438.9" cy="580.3" r="5.5"/><circle cx="442.7" cy="600.5" r="5.5"/><circle cx="427.1" cy="627.3" r="5.5"/><circle cx="416.1" cy="624.9" r="5.5"/><circle cx="453.2" cy="598.7" r="5.5"/><circle cx="456.6" cy="599.9" r="5.5"/><circle cx="430.1" cy="632.3" r="5.5"/><circle cx="441.8" cy="543.0" r="5.5"/><circle cx="406.1" cy="595.5" r="5.5"/><circle cx="431.7" cy="594.4" r="5.5"/><circle cx="417.2" cy="634.9" r="5.5"/><circle cx="411.5" cy="602.9" r="5.5"/><circle cx="420.6" cy="641.5" r="5.5"/><circle cx="438.9" cy="529.3" r="5.5"/><circle cx="469.3" cy="610.3" r="5.5"/><circle cx="401.9" cy="599.6" r="5.5"/><circle cx="408.4" cy="590.7" r="5.5"/><circle cx="391.3" cy="606.2" r="5.5"/><circle cx="437.6" cy="596.0" r="5.5"/><circle cx="475.8" cy="558.0" r="5.5"/><circle cx="398.3" cy="607.9" r="5.5"/><circle cx="469.2" cy="585.3" r="5.5"/><circle cx="466.8" cy="580.9" r="5.5"/><circle cx="388.9" cy="522.7" r="5.5"/><circle cx="434.9" cy="598.5" r="5.5"/><circle cx="397.5" cy="611.2" r="5.5"/><circle cx="464.0" cy="548.3" r="5.5"/><circle cx="405.0" cy="602.3" r="5.5"/><circle cx="376.7" cy="528.3" r="5.5"/><circle cx="443.3" cy="580.1" r="5.5"/><circle cx="395.8" cy="580.7" r="5.5"/><circle cx="425.2" cy="638.0" r="5.5"/><circle cx="458.1" cy="528.6" r="5.5"/><circle cx="454.2" cy="604.0" r="5.5"/><circle cx="478.0" cy="525.9" r="5.5"/><circle cx="403.3" cy="602.1" r="5.5"/><circle cx="396.2" cy="561.6" r="5.5"/><circle cx="412.5" cy="553.7" r="5.5"/><circle cx="461.5" cy="584.5" r="5.5"/><circle cx="388.2" cy="600.9" r="5.5"/><circle cx="403.3" cy="602.5" r="5.5"/><circle cx="437.8" cy="613.3" r="5.5"/><circle cx="431.6" cy="540.5" r="5.5"/><circle cx="383.5" cy="536.0" r="5.5"/><circle cx="458.1" cy="555.7" r="5.5"/><circle cx="410.6" cy="603.6" r="5.5"/><circle cx="447.2" cy="574.1" r="5.5"/><circle cx="468.7" cy="551.9" r="5.5"/><circle cx="401.7" cy="602.3" r="5.5"/><circle cx="410.3" cy="591.2" r="5.5"/><circle cx="427.8" cy="613.3" r="5.5"/><circle cx="399.5" cy="605.6" r="5.5"/><circle cx="371.2" cy="500.3" r="5.5"/><circle cx="392.4" cy="562.3" r="5.5"/><circle cx="417.3" cy="637.5" r="5.5"/><circle cx="403.2" cy="612.2" r="5.5"/><circle cx="482.6" cy="578.1" r="5.5"/><circle cx="413.1" cy="604.4" r="5.5"/><circle cx="434.3" cy="570.1" r="5.5"/><circle cx="409.4" cy="597.7" r="5.5"/><circle cx="419.0" cy="630.9" r="5.5"/><circle cx="435.3" cy="624.8" r="5.5"/><circle cx="464.5" cy="566.1" r="5.5"/><circle cx="465.0" cy="594.2" r="5.5"/><circle cx="389.2" cy="592.7" r="5.5"/><circle cx="419.3" cy="640.6" r="5.5"/><circle cx="436.3" cy="548.5" r="5.5"/><circle cx="390.9" cy="572.7" r="5.5"/><circle cx="429.2" cy="623.7" r="5.5"/><circle cx="394.8" cy="617.9" r="5.5"/><circle cx="394.5" cy="575.7" r="5.5"/><circle cx="398.2" cy="608.6" r="5.5"/><circle cx="473.3" cy="572.6" r="5.5"/><circle cx="446.5" cy="606.6" r="5.5"/><circle cx="404.5" cy="579.6" r="5.5"/><circle cx="384.7" cy="550.7" r="5.5"/><circle cx="482.3" cy="540.7" r="5.5"/><circle cx="439.5" cy="591.8" r="5.5"/><circle cx="400.9" cy="534.3" r="5.5"/><circle cx="461.5" cy="570.0" r="5.5"/><circle cx="425.7" cy="637.6" r="5.5"/><circle cx="442.8" cy="585.1" r="5.5"/><circle cx="463.2" cy="536.1" r="5.5"/><circle cx="444.4" cy="591.8" r="5.5"/><circle cx="423.8" cy="635.5" r="5.5"/><circle cx="409.6" cy="631.1" r="5.5"/><circle cx="452.8" cy="612.1" r="5.5"/><circle cx="423.7" cy="634.0" r="5.5"/><circle cx="446.0" cy="620.6" r="5.5"/><circle cx="464.4" cy="612.4" r="5.5"/><circle cx="438.8" cy="576.6" r="5.5"/><circle cx="384.9" cy="495.2" r="5.5"/><circle cx="411.5" cy="618.1" r="5.5"/><circle cx="399.8" cy="607.0" r="5.5"/><circle cx="420.6" cy="639.7" r="5.5"/><circle cx="432.2" cy="554.3" r="5.5"/><circle cx="417.0" cy="632.0" r="5.5"/><circle cx="391.3" cy="524.6" r="5.5"/><circle cx="418.3" cy="637.9" r="5.5"/><circle cx="421.7" cy="641.9" r="5.5"/><circle cx="455.5" cy="555.2" r="5.5"/><circle cx="421.3" cy="642.1" r="5.5"/><circle cx="419.0" cy="639.7" r="5.5"/><circle cx="396.6" cy="611.3" r="5.5"/><circle cx="472.8" cy="487.0" r="5.5"/><circle cx="466.6" cy="534.8" r="5.5"/><circle cx="427.3" cy="637.8" r="5.5"/><circle cx="427.1" cy="625.4" r="5.5"/><circle cx="400.2" cy="576.7" r="5.5"/><circle cx="450.7" cy="621.1" r="5.5"/><circle cx="423.6" cy="634.2" r="5.5"/><circle cx="385.8" cy="549.1" r="5.5"/><circle cx="431.9" cy="631.8" r="5.5"/><circle cx="467.4" cy="556.2" r="5.5"/><circle cx="372.2" cy="500.6" r="5.5"/><circle cx="406.0" cy="596.1" r="5.5"/><circle cx="437.1" cy="595.4" r="5.5"/><circle cx="374.8" cy="505.2" r="5.5"/><circle cx="409.9" cy="619.8" r="5.5"/><circle cx="433.7" cy="520.4" r="5.5"/><circle cx="475.0" cy="540.6" r="5.5"/><circle cx="442.9" cy="600.4" r="5.5"/><circle cx="436.9" cy="625.8" r="5.5"/><circle cx="442.6" cy="620.3" r="5.5"/><circle cx="410.7" cy="619.0" r="5.5"/><circle cx="437.6" cy="612.6" r="5.5"/><circle cx="460.2" cy="595.0" r="5.5"/><circle cx="389.7" cy="559.4" r="5.5"/><circle cx="396.5" cy="509.5" r="5.5"/><circle cx="432.2" cy="630.9" r="5.5"/><circle cx="441.5" cy="573.1" r="5.5"/><circle cx="432.9" cy="608.9" r="5.5"/><circle cx="384.3" cy="562.0" r="5.5"/><circle cx="396.8" cy="618.2" r="5.5"/><circle cx="411.6" cy="559.0" r="5.5"/><circle cx="442.5" cy="612.6" r="5.5"/><circle cx="453.2" cy="568.4" r="5.5"/><circle cx="438.0" cy="573.3" r="5.5"/><circle cx="455.2" cy="590.0" r="5.5"/><circle cx="466.2" cy="528.0" r="5.5"/><circle cx="407.0" cy="614.5" r="5.5"/><circle cx="427.4" cy="632.5" r="5.5"/><circle cx="411.8" cy="626.2" r="5.5"/><circle cx="462.7" cy="586.7" r="5.5"/><circle cx="385.3" cy="559.7" r="5.5"/><circle cx="454.5" cy="599.1" r="5.5"/><circle cx="438.0" cy="617.8" r="5.5"/><circle cx="403.3" cy="574.5" r="5.5"/><circle cx="426.2" cy="637.7" r="5.5"/><circle cx="447.8" cy="574.7" r="5.5"/><circle cx="405.4" cy="586.5" r="5.5"/><circle cx="428.7" cy="627.9" r="5.5"/><circle cx="430.8" cy="620.6" r="5.5"/><circle cx="505.5" cy="510.5" r="5.5"/><circle cx="453.5" cy="551.1" r="5.5"/><circle cx="406.4" cy="618.5" r="5.5"/><circle cx="466.0" cy="575.1" r="5.5"/><circle cx="376.7" cy="538.9" r="5.5"/><circle cx="419.2" cy="636.6" r="5.5"/><circle cx="428.2" cy="629.0" r="5.5"/><circle cx="363.6" cy="562.2" r="5.5"/><circle cx="401.9" cy="595.9" r="5.5"/><circle cx="425.1" cy="636.5" r="5.5"/><circle cx="478.4" cy="523.9" r="5.5"/><circle cx="423.6" cy="634.8" r="5.5"/><circle cx="409.5" cy="632.7" r="5.5"/><circle cx="407.5" cy="617.5" r="5.5"/><circle cx="412.9" cy="613.1" r="5.5"/><circle cx="428.0" cy="612.9" r="5.5"/><circle cx="444.6" cy="595.1" r="5.5"/><circle cx="450.6" cy="600.4" r="5.5"/><circle cx="491.4" cy="516.7" r="5.5"/><circle cx="462.9" cy="597.7" r="5.5"/><circle cx="441.1" cy="611.6" r="5.5"/><circle cx="399.7" cy="586.3" r="5.5"/><circle cx="471.1" cy="612.3" r="5.5"/><circle cx="438.5" cy="581.8" r="5.5"/><circle cx="409.1" cy="625.3" r="5.5"/><circle cx="442.9" cy="616.9" r="5.5"/><circle cx="431.4" cy="621.9" r="5.5"/><circle cx="473.5" cy="545.1" r="5.5"/><circle cx="398.4" cy="555.0" r="5.5"/><circle cx="501.2" cy="592.3" r="5.5"/><circle cx="384.4" cy="556.5" r="5.5"/><circle cx="482.3" cy="519.1" r="5.5"/><circle cx="436.6" cy="621.9" r="5.5"/><circle cx="410.5" cy="566.1" r="5.5"/><circle cx="435.6" cy="631.8" r="5.5"/><circle cx="454.5" cy="533.3" r="5.5"/><circle cx="466.4" cy="613.5" r="5.5"/><circle cx="366.8" cy="562.6" r="5.5"/><circle cx="429.1" cy="629.6" r="5.5"/><circle cx="455.2" cy="608.5" r="5.5"/><circle cx="452.1" cy="612.2" r="5.5"/><circle cx="417.4" cy="620.1" r="5.5"/><circle cx="448.0" cy="562.0" r="5.5"/><circle cx="413.2" cy="618.9" r="5.5"/><circle cx="408.2" cy="629.2" r="5.5"/><circle cx="430.1" cy="620.8" r="5.5"/><circle cx="418.5" cy="639.7" r="5.5"/><circle cx="417.1" cy="634.1" r="5.5"/><circle cx="434.1" cy="577.9" r="5.5"/><circle cx="436.8" cy="628.1" r="5.5"/><circle cx="408.8" cy="600.3" r="5.5"/><circle cx="445.5" cy="592.7" r="5.5"/><circle cx="414.2" cy="627.3" r="5.5"/><circle cx="466.4" cy="529.7" r="5.5"/><circle cx="444.9" cy="582.6" r="5.5"/><circle cx="423.4" cy="641.4" r="5.5"/><circle cx="400.5" cy="549.8" r="5.5"/><circle cx="402.6" cy="572.2" r="5.5"/><circle cx="408.9" cy="603.7" r="5.5"/><circle cx="421.9" cy="641.8" r="5.5"/><circle cx="428.8" cy="613.6" r="5.5"/><circle cx="432.5" cy="574.0" r="5.5"/><circle cx="460.1" cy="571.5" r="5.5"/><circle cx="389.1" cy="537.1" r="5.5"/><circle cx="456.0" cy="583.1" r="5.5"/><circle cx="391.1" cy="599.4" r="5.5"/><circle cx="401.5" cy="569.8" r="5.5"/><circle cx="437.5" cy="589.5" r="5.5"/><circle cx="455.5" cy="607.2" r="5.5"/><circle cx="441.4" cy="629.8" r="5.5"/><circle cx="437.3" cy="597.5" r="5.5"/><circle cx="405.7" cy="567.9" r="5.5"/><circle cx="426.4" cy="639.2" r="5.5"/><circle cx="399.7" cy="506.3" r="5.5"/><circle cx="430.8" cy="634.8" r="5.5"/><circle cx="406.4" cy="539.7" r="5.5"/><circle cx="480.3" cy="568.4" r="5.5"/><circle cx="437.7" cy="559.4" r="5.5"/><circle cx="498.0" cy="562.0" r="5.5"/><circle cx="413.5" cy="629.7" r="5.5"/><circle cx="378.6" cy="546.6" r="5.5"/><circle cx="406.3" cy="523.6" r="5.5"/><circle cx="417.9" cy="638.2" r="5.5"/><circle cx="401.8" cy="576.7" r="5.5"/><circle cx="395.0" cy="563.3" r="5.5"/><circle cx="408.5" cy="622.7" r="5.5"/><circle cx="425.0" cy="637.1" r="5.5"/><circle cx="469.0" cy="590.2" r="5.5"/><circle cx="435.8" cy="626.3" r="5.5"/><circle cx="441.3" cy="539.4" r="5.5"/><circle cx="386.0" cy="561.1" r="5.5"/><circle cx="413.0" cy="599.6" r="5.5"/><circle cx="391.8" cy="530.7" r="5.5"/><circle cx="388.2" cy="542.4" r="5.5"/><circle cx="505.8" cy="512.8" r="5.5"/><circle cx="391.6" cy="538.7" r="5.5"/><circle cx="409.5" cy="628.7" r="5.5"/><circle cx="426.6" cy="624.4" r="5.5"/><circle cx="482.3" cy="560.8" r="5.5"/><circle cx="444.3" cy="617.0" r="5.5"/><circle cx="417.8" cy="630.5" r="5.5"/><circle cx="447.0" cy="597.4" r="5.5"/><circle cx="408.2" cy="617.5" r="5.5"/><circle cx="382.2" cy="531.0" r="5.5"/><circle cx="444.9" cy="623.2" r="5.5"/><circle cx="425.7" cy="626.9" r="5.5"/><circle cx="410.5" cy="572.7" r="5.5"/><circle cx="453.4" cy="530.5" r="5.5"/><circle cx="445.6" cy="606.4" r="5.5"/><circle cx="431.3" cy="606.8" r="5.5"/><circle cx="436.5" cy="591.7" r="5.5"/><circle cx="421.2" cy="637.3" r="5.5"/><circle cx="494.9" cy="488.7" r="5.5"/><circle cx="388.7" cy="578.1" r="5.5"/><circle cx="395.5" cy="568.3" r="5.5"/><circle cx="436.7" cy="631.4" r="5.5"/><circle cx="395.6" cy="517.9" r="5.5"/><circle cx="416.6" cy="637.2" r="5.5"/><circle cx="448.1" cy="537.8" r="5.5"/><circle cx="432.1" cy="570.2" r="5.5"/><circle cx="412.4" cy="545.7" r="5.5"/><circle cx="458.3" cy="603.1" r="5.5"/><circle cx="438.2" cy="604.6" r="5.5"/><circle cx="384.8" cy="603.8" r="5.5"/><circle cx="415.1" cy="609.0" r="5.5"/><circle cx="410.5" cy="604.5" r="5.5"/><circle cx="431.3" cy="609.5" r="5.5"/><circle cx="456.3" cy="600.6" r="5.5"/><circle cx="407.6" cy="524.3" r="5.5"/><circle cx="405.7" cy="575.0" r="5.5"/><circle cx="483.5" cy="531.1" r="5.5"/><circle cx="418.6" cy="631.3" r="5.5"/><circle cx="388.4" cy="543.4" r="5.5"/><circle cx="398.4" cy="501.9" r="5.5"/></g>
<path d="M110.0 410.8H127.4M146.8 410.8H165.8M185.1 410.8H204.1M223.4 410.8H242.4M261.8 410.8H280.8M300.2 410.8H319.2M338.5 410.8H357.5M376.9 410.8H395.9M415.2 410.8H434.2M453.6 410.8H472.6M491.9 410.8H510.9M530.3 410.8H549.3M568.6 410.8H587.6M607.0 410.8H626.0M645.3 410.8H664.3M683.7 410.8H702.7M722.0 410.8H741.0M760.4 410.8H779.4M798.7 410.8H817.7M837.1 410.8H856.1M875.4 410.8H894.4M913.8 410.8H932.8M952.1 410.8H971.1" stroke="#303030" stroke-width="4.4" fill="none"/>
<g fill="#ff0a0a" fill-opacity="0.72"><circle cx="580.0" cy="153.8" r="5.5"/><circle cx="519.5" cy="242.2" r="5.5"/><circle cx="620.8" cy="289.2" r="5.5"/><circle cx="602.5" cy="296.4" r="5.5"/><circle cx="510.0" cy="356.2" r="5.5"/><circle cx="603.8" cy="347.0" r="5.5"/><circle cx="610.8" cy="354.5" r="5.5"/><circle cx="587.0" cy="375.8" r="5.5"/><circle cx="504.0" cy="377.5" r="5.5"/><circle cx="583.2" cy="390.8" r="5.5"/><circle cx="646.2" cy="374.5" r="5.5"/><circle cx="638.2" cy="384.5" r="5.5"/></g>
<g fill="#12b212" stroke="#000" stroke-width="2.1" fill-opacity="0.72"><circle cx="955.4" cy="58.4" r="5.6"/><circle cx="548.8" cy="152.0" r="5.6"/><circle cx="556.2" cy="166.8" r="5.6"/><circle cx="711.2" cy="274.5" r="5.6"/><circle cx="528.5" cy="294.3" r="5.6"/><circle cx="603.0" cy="313.2" r="5.6"/><circle cx="508.8" cy="336.7" r="5.6"/><circle cx="531.0" cy="358.2" r="5.6"/><circle cx="573.0" cy="358.0" r="5.6"/><circle cx="510.0" cy="376.6" r="5.6"/><circle cx="551.8" cy="385.5" r="5.6"/><circle cx="600.0" cy="383.8" r="5.6"/></g>
<g fill="#1810e6" stroke="#000" stroke-width="2.1" fill-opacity="0.72"><circle cx="528.4" cy="196.0" r="5.6"/><circle cx="539.4" cy="242.2" r="5.6"/><circle cx="519.4" cy="298.0" r="5.6"/><circle cx="524.3" cy="300.3" r="5.6"/><circle cx="591.8" cy="295.0" r="5.6"/><circle cx="566.2" cy="317.0" r="5.6"/><circle cx="513.4" cy="321.3" r="5.6"/><circle cx="535.5" cy="334.7" r="5.6"/><circle cx="543.2" cy="358.0" r="5.6"/><circle cx="581.2" cy="360.0" r="5.6"/><circle cx="579.5" cy="371.8" r="5.6"/><circle cx="504.3" cy="373.2" r="5.6"/><circle cx="519.7" cy="378.2" r="5.6"/><circle cx="560.8" cy="395.0" r="5.6"/><circle cx="598.0" cy="401.2" r="5.6"/></g>
<g fill="#ff0a0a" fill-opacity="0.72"><circle cx="565.8" cy="308.0" r="5.5"/></g>
</g>
<rect x="107.6" y="28.3" width="885.2" height="642.2" fill="none" stroke="#000" stroke-width="6" stroke-linejoin="round"/>
<path d="M990.5 410.8H994.3" stroke="#3c3c3c" stroke-width="3.6"/>
<path d="M150.8 670V676M421.7 670V676M692.6 670V676M963.6 670V676M102.2 642.2H108M102.2 464.1H108M102.2 286.1H108M102.2 108.0H108" stroke="#000" stroke-width="2.8" fill="none"/>
<g id="pb">
<path d="M536.6 830.0V839.4M536.6 859.6V877.8M536.6 898.0V916.2M536.6 936.4V954.6M536.6 974.8V993.0M536.6 1013.2V1031.4M536.6 1051.6V1069.8M536.6 1090.0V1108.2M536.6 1128.4V1146.6M536.6 1166.8V1185.0M536.6 1205.2V1223.4M536.6 1243.6V1261.8M536.6 1282.0V1300.2M536.6 1320.4V1338.6M536.6 1358.8V1377.0M536.6 1397.2V1412.0" stroke="#222" stroke-width="1.6" fill="none"/>
<g fill="#bcbcbc" fill-opacity="0.5"><circle cx="500.0" cy="1035.0" r="5.5"/><circle cx="523.0" cy="1037.7" r="5.5"/><circle cx="523.0" cy="1107.0" r="5.5"/><circle cx="508.6" cy="1138.8" r="5.5"/><circle cx="513.5" cy="1166.2" r="5.5"/><circle cx="325.2" cy="1157.0" r="5.5"/><circle cx="306.8" cy="1167.0" r="5.5"/><circle cx="348.0" cy="1168.0" r="5.5"/><circle cx="260.4" cy="1176.9" r="5.5"/><circle cx="328.8" cy="1181.0" r="5.5"/><circle cx="337.5" cy="1184.2" r="5.5"/><circle cx="356.2" cy="1183.0" r="5.5"/><circle cx="148.5" cy="1199.2" r="5.5"/><circle cx="284.5" cy="1193.0" r="5.5"/><circle cx="293.0" cy="1202.5" r="5.5"/><circle cx="274.5" cy="1210.0" r="5.5"/><circle cx="350.0" cy="1201.0" r="5.5"/><circle cx="350.8" cy="1217.0" r="5.5"/><circle cx="355.0" cy="1224.2" r="5.5"/><circle cx="358.8" cy="1226.2" r="5.5"/><circle cx="311.0" cy="1225.0" r="5.5"/><circle cx="292.5" cy="1236.0" r="5.5"/><circle cx="234.5" cy="1241.0" r="5.5"/><circle cx="307.8" cy="1241.0" r="5.5"/><circle cx="327.8" cy="1242.0" r="5.5"/><circle cx="279.8" cy="1255.0" r="5.5"/><circle cx="310.2" cy="1254.2" r="5.5"/><circle cx="351.2" cy="1256.8" r="5.5"/><circle cx="292.0" cy="1263.0" r="5.5"/><circle cx="293.2" cy="1268.5" r="5.5"/><circle cx="332.0" cy="1267.0" r="5.5"/><circle cx="206.5" cy="1269.5" r="5.5"/><circle cx="291.2" cy="1279.2" r="5.5"/><circle cx="302.0" cy="1285.0" r="5.5"/><circle cx="321.5" cy="1283.8" r="5.5"/><circle cx="332.8" cy="1286.5" r="5.5"/><circle cx="343.8" cy="1287.0" r="5.5"/><circle cx="353.0" cy="1293.0" r="5.5"/><circle cx="358.2" cy="1296.2" r="5.5"/><circle cx="331.0" cy="1295.8" r="5.5"/><circle cx="323.0" cy="1300.0" r="5.5"/><circle cx="344.5" cy="1308.0" r="5.5"/><circle cx="349.8" cy="1308.2" r="5.5"/><circle cx="161.2" cy="1303.8" r="5.5"/><circle cx="357.5" cy="1328.0" r="5.5"/><circle cx="403.2" cy="1006.2" r="5.5"/><circle cx="387.0" cy="1019.2" r="5.5"/><circle cx="386.5" cy="1092.8" r="5.5"/><circle cx="398.5" cy="1107.0" r="5.5"/><circle cx="397.8" cy="1123.0" r="5.5"/><circle cx="405.2" cy="1130.5" r="5.5"/><circle cx="494.5" cy="1131.6" r="5.5"/><circle cx="368.0" cy="1145.2" r="5.5"/><circle cx="403.9" cy="1153.9" r="5.5"/><circle cx="399.1" cy="1156.9" r="5.5"/><circle cx="400.0" cy="1162.4" r="5.5"/><circle cx="386.1" cy="1165.5" r="5.5"/><circle cx="373.4" cy="1168.0" r="5.5"/><circle cx="492.5" cy="1152.5" r="5.5"/><circle cx="410.0" cy="1185.6" r="5.5"/><circle cx="392.4" cy="1200.0" r="5.5"/><circle cx="411.0" cy="1200.0" r="5.5"/><circle cx="378.0" cy="1213.0" r="5.5"/><circle cx="409.0" cy="1212.0" r="5.5"/><circle cx="425.6" cy="1215.0" r="5.5"/><circle cx="401.0" cy="1219.0" r="5.5"/><circle cx="369.0" cy="1224.0" r="5.5"/><circle cx="373.0" cy="1226.0" r="5.5"/><circle cx="391.0" cy="1232.0" r="5.5"/><circle cx="388.0" cy="1236.0" r="5.5"/><circle cx="405.0" cy="1231.0" r="5.5"/><circle cx="413.0" cy="1235.0" r="5.5"/><circle cx="401.0" cy="1238.0" r="5.5"/><circle cx="376.4" cy="1241.0" r="5.5"/><circle cx="410.0" cy="1240.0" r="5.5"/><circle cx="431.0" cy="1242.0" r="5.5"/><circle cx="473.0" cy="1210.0" r="5.5"/><circle cx="482.4" cy="1208.0" r="5.5"/><circle cx="477.0" cy="1219.0" r="5.5"/><circle cx="517.0" cy="1191.0" r="5.5"/><circle cx="515.0" cy="1199.0" r="5.5"/><circle cx="527.0" cy="1203.0" r="5.5"/><circle cx="500.0" cy="1228.0" r="5.5"/><circle cx="482.6" cy="1235.0" r="5.5"/><circle cx="511.0" cy="1233.0" r="5.5"/><circle cx="504.0" cy="1237.0" r="5.5"/><circle cx="476.0" cy="1240.0" r="5.5"/><circle cx="520.0" cy="1237.0" r="5.5"/><circle cx="519.0" cy="1243.0" r="5.5"/><circle cx="527.0" cy="1229.0" r="5.5"/><circle cx="370.0" cy="1258.0" r="5.5"/><circle cx="375.6" cy="1254.4" r="5.5"/><circle cx="366.4" cy="1294.4" r="5.5"/><circle cx="532.5" cy="1222.5" r="5.5"/><circle cx="529.2" cy="1235.0" r="5.5"/><circle cx="548.8" cy="1247.5" r="5.5"/><circle cx="553.8" cy="1251.2" r="5.5"/><circle cx="573.8" cy="1253.8" r="5.5"/><circle cx="546.2" cy="1266.2" r="5.5"/><circle cx="552.5" cy="1266.2" r="5.5"/><circle cx="570.0" cy="1267.5" r="5.5"/><circle cx="598.8" cy="1263.8" r="5.5"/><circle cx="596.2" cy="1272.5" r="5.5"/><circle cx="602.5" cy="1270.0" r="5.5"/><circle cx="642.0" cy="1260.0" r="5.5"/><circle cx="655.5" cy="1265.0" r="5.5"/><circle cx="617.5" cy="1275.0" r="5.5"/><circle cx="563.8" cy="1280.0" r="5.5"/><circle cx="570.0" cy="1285.0" r="5.5"/><circle cx="581.2" cy="1282.5" r="5.5"/><circle cx="596.2" cy="1282.5" r="5.5"/><circle cx="541.2" cy="1271.2" r="5.5"/><circle cx="553.8" cy="1286.2" r="5.5"/><circle cx="647.5" cy="1285.5" r="5.5"/><circle cx="676.2" cy="1291.2" r="5.5"/><circle cx="577.5" cy="1244.2" r="5.5"/><circle cx="532.5" cy="1262.0" r="5.5"/><circle cx="605.8" cy="1290.0" r="5.5"/><circle cx="566.2" cy="1277.5" r="5.5"/><circle cx="560.0" cy="1285.0" r="5.5"/><circle cx="565.0" cy="1288.8" r="5.5"/><circle cx="545.0" cy="1280.0" r="5.5"/><circle cx="550.0" cy="1278.8" r="5.5"/><circle cx="541.2" cy="1286.2" r="5.5"/><circle cx="546.2" cy="1291.2" r="5.5"/><circle cx="557.5" cy="1297.0" r="5.5"/><circle cx="571.2" cy="1293.8" r="5.5"/><circle cx="575.0" cy="1298.8" r="5.5"/><circle cx="575.5" cy="1304.5" r="5.5"/><circle cx="552.5" cy="1305.0" r="5.5"/><circle cx="558.8" cy="1310.5" r="5.5"/><circle cx="567.5" cy="1313.0" r="5.5"/><circle cx="546.2" cy="1309.5" r="5.5"/><circle cx="547.5" cy="1317.5" r="5.5"/><circle cx="553.8" cy="1323.8" r="5.5"/><circle cx="561.2" cy="1325.0" r="5.5"/><circle cx="567.0" cy="1329.2" r="5.5"/><circle cx="575.8" cy="1323.2" r="5.5"/><circle cx="578.0" cy="1334.2" r="5.5"/><circle cx="546.2" cy="1332.5" r="5.5"/><circle cx="552.0" cy="1340.0" r="5.5"/><circle cx="555.8" cy="1345.8" r="5.5"/><circle cx="540.0" cy="1344.5" r="5.5"/><circle cx="532.5" cy="1346.2" r="5.5"/><circle cx="638.2" cy="1332.5" r="5.5"/><circle cx="661.2" cy="1348.8" r="5.5"/><circle cx="467.8" cy="1370.4" r="5.5"/><circle cx="471.3" cy="1366.6" r="5.5"/><circle cx="498.3" cy="1289.1" r="5.5"/><circle cx="518.5" cy="1283.1" r="5.5"/><circle cx="454.7" cy="1367.5" r="5.5"/><circle cx="455.5" cy="1380.4" r="5.5"/><circle cx="403.5" cy="1314.5" r="5.5"/><circle cx="464.0" cy="1371.9" r="5.5"/><circle cx="408.2" cy="1351.6" r="5.5"/><circle cx="407.9" cy="1345.6" r="5.5"/><circle cx="431.6" cy="1337.2" r="5.5"/><circle cx="419.7" cy="1255.3" r="5.5"/><circle cx="496.2" cy="1350.0" r="5.5"/><circle cx="375.6" cy="1330.2" r="5.5"/><circle cx="419.1" cy="1342.5" r="5.5"/><circle cx="444.2" cy="1358.3" r="5.5"/><circle cx="461.3" cy="1369.6" r="5.5"/><circle cx="445.0" cy="1365.3" r="5.5"/><circle cx="461.6" cy="1373.7" r="5.5"/><circle cx="453.1" cy="1367.5" r="5.5"/><circle cx="432.9" cy="1358.5" r="5.5"/><circle cx="459.9" cy="1380.2" r="5.5"/><circle cx="452.8" cy="1385.0" r="5.5"/><circle cx="443.8" cy="1378.9" r="5.5"/><circle cx="392.3" cy="1321.8" r="5.5"/><circle cx="463.7" cy="1365.3" r="5.5"/><circle cx="437.1" cy="1375.0" r="5.5"/><circle cx="455.1" cy="1380.0" r="5.5"/><circle cx="449.8" cy="1385.0" r="5.5"/><circle cx="427.1" cy="1366.1" r="5.5"/><circle cx="447.0" cy="1380.7" r="5.5"/><circle cx="389.9" cy="1354.3" r="5.5"/><circle cx="498.5" cy="1299.6" r="5.5"/><circle cx="409.5" cy="1354.4" r="5.5"/><circle cx="458.9" cy="1373.8" r="5.5"/><circle cx="412.8" cy="1349.4" r="5.5"/><circle cx="458.2" cy="1369.5" r="5.5"/><circle cx="471.5" cy="1287.8" r="5.5"/><circle cx="450.3" cy="1386.6" r="5.5"/><circle cx="484.4" cy="1352.0" r="5.5"/><circle cx="443.1" cy="1378.8" r="5.5"/><circle cx="462.5" cy="1372.7" r="5.5"/><circle cx="458.3" cy="1376.1" r="5.5"/><circle cx="421.6" cy="1341.7" r="5.5"/><circle cx="481.0" cy="1281.8" r="5.5"/><circle cx="443.3" cy="1350.0" r="5.5"/><circle cx="426.3" cy="1334.7" r="5.5"/><circle cx="483.8" cy="1343.6" r="5.5"/><circle cx="447.2" cy="1387.6" r="5.5"/><circle cx="515.1" cy="1331.3" r="5.5"/><circle cx="453.6" cy="1376.2" r="5.5"/><circle cx="527.9" cy="1301.5" r="5.5"/><circle cx="467.2" cy="1362.8" r="5.5"/><circle cx="470.5" cy="1336.9" r="5.5"/><circle cx="488.4" cy="1319.6" r="5.5"/><circle cx="525.3" cy="1342.9" r="5.5"/><circle cx="447.3" cy="1384.7" r="5.5"/><circle cx="433.0" cy="1361.6" r="5.5"/><circle cx="507.4" cy="1356.3" r="5.5"/><circle cx="452.4" cy="1377.5" r="5.5"/><circle cx="463.6" cy="1354.9" r="5.5"/><circle cx="438.1" cy="1282.7" r="5.5"/><circle cx="485.6" cy="1290.0" r="5.5"/><circle cx="439.0" cy="1372.0" r="5.5"/><circle cx="510.1" cy="1351.2" r="5.5"/><circle cx="440.0" cy="1312.4" r="5.5"/><circle cx="453.3" cy="1386.4" r="5.5"/><circle cx="534.7" cy="1324.9" r="5.5"/><circle cx="438.0" cy="1376.2" r="5.5"/><circle cx="423.4" cy="1332.6" r="5.5"/><circle cx="435.4" cy="1373.9" r="5.5"/><circle cx="432.3" cy="1357.1" r="5.5"/><circle cx="432.1" cy="1371.7" r="5.5"/><circle cx="476.4" cy="1328.6" r="5.5"/><circle cx="481.5" cy="1347.8" r="5.5"/><circle cx="429.4" cy="1371.7" r="5.5"/><circle cx="449.8" cy="1387.8" r="5.5"/><circle cx="473.0" cy="1349.2" r="5.5"/><circle cx="435.3" cy="1368.8" r="5.5"/><circle cx="434.1" cy="1353.2" r="5.5"/><circle cx="433.8" cy="1368.4" r="5.5"/><circle cx="525.1" cy="1299.3" r="5.5"/><circle cx="447.3" cy="1387.7" r="5.5"/><circle cx="516.0" cy="1294.5" r="5.5"/><circle cx="429.7" cy="1368.5" r="5.5"/><circle cx="417.6" cy="1256.8" r="5.5"/><circle cx="524.5" cy="1270.4" r="5.5"/><circle cx="452.0" cy="1381.5" r="5.5"/><circle cx="430.0" cy="1374.1" r="5.5"/><circle cx="481.0" cy="1275.1" r="5.5"/><circle cx="484.1" cy="1326.8" r="5.5"/><circle cx="433.5" cy="1259.8" r="5.5"/><circle cx="450.0" cy="1384.8" r="5.5"/><circle cx="445.9" cy="1380.0" r="5.5"/><circle cx="455.2" cy="1375.8" r="5.5"/><circle cx="433.1" cy="1370.7" r="5.5"/><circle cx="464.6" cy="1368.9" r="5.5"/><circle cx="423.8" cy="1249.4" r="5.5"/><circle cx="405.0" cy="1330.1" r="5.5"/><circle cx="414.9" cy="1361.5" r="5.5"/><circle cx="459.9" cy="1379.0" r="5.5"/><circle cx="499.0" cy="1348.7" r="5.5"/><circle cx="526.4" cy="1321.0" r="5.5"/><circle cx="425.9" cy="1366.0" r="5.5"/><circle cx="454.4" cy="1385.6" r="5.5"/><circle cx="423.8" cy="1353.1" r="5.5"/><circle cx="461.2" cy="1360.2" r="5.5"/><circle cx="420.0" cy="1328.3" r="5.5"/><circle cx="456.3" cy="1374.3" r="5.5"/><circle cx="429.4" cy="1295.3" r="5.5"/><circle cx="428.1" cy="1368.6" r="5.5"/><circle cx="511.7" cy="1314.6" r="5.5"/><circle cx="432.0" cy="1369.1" r="5.5"/><circle cx="485.6" cy="1354.8" r="5.5"/><circle cx="445.1" cy="1378.7" r="5.5"/><circle cx="487.3" cy="1360.6" r="5.5"/><circle cx="451.3" cy="1383.3" r="5.5"/><circle cx="471.5" cy="1349.6" r="5.5"/><circle cx="452.7" cy="1386.8" r="5.5"/><circle cx="458.1" cy="1375.3" r="5.5"/><circle cx="446.4" cy="1378.6" r="5.5"/><circle cx="458.9" cy="1378.9" r="5.5"/><circle cx="405.0" cy="1288.2" r="5.5"/><circle cx="445.7" cy="1381.5" r="5.5"/><circle cx="376.4" cy="1268.6" r="5.5"/><circle cx="485.0" cy="1331.3" r="5.5"/><circle cx="427.7" cy="1299.6" r="5.5"/><circle cx="414.0" cy="1352.9" r="5.5"/><circle cx="464.1" cy="1307.8" r="5.5"/><circle cx="523.7" cy="1313.0" r="5.5"/><circle cx="412.1" cy="1361.7" r="5.5"/><circle cx="410.3" cy="1300.0" r="5.5"/><circle cx="493.0" cy="1352.8" r="5.5"/><circle cx="434.7" cy="1370.4" r="5.5"/><circle cx="445.3" cy="1382.1" r="5.5"/><circle cx="431.7" cy="1374.4" r="5.5"/><circle cx="441.8" cy="1374.2" r="5.5"/><circle cx="468.5" cy="1372.4" r="5.5"/><circle cx="448.6" cy="1386.1" r="5.5"/><circle cx="437.5" cy="1267.8" r="5.5"/><circle cx="462.0" cy="1373.5" r="5.5"/><circle cx="482.8" cy="1365.7" r="5.5"/><circle cx="431.7" cy="1365.2" r="5.5"/><circle cx="447.4" cy="1384.2" r="5.5"/><circle cx="422.4" cy="1275.9" r="5.5"/><circle cx="438.2" cy="1337.6" r="5.5"/><circle cx="461.9" cy="1374.7" r="5.5"/><circle cx="465.3" cy="1337.2" r="5.5"/><circle cx="507.5" cy="1328.5" r="5.5"/><circle cx="492.1" cy="1305.1" r="5.5"/><circle cx="478.4" cy="1357.3" r="5.5"/><circle cx="484.4" cy="1255.3" r="5.5"/><circle cx="498.4" cy="1351.5" r="5.5"/><circle cx="436.1" cy="1373.1" r="5.5"/><circle cx="394.3" cy="1346.0" r="5.5"/><circle cx="492.3" cy="1364.0" r="5.5"/><circle cx="449.8" cy="1385.7" r="5.5"/><circle cx="397.3" cy="1305.2" r="5.5"/><circle cx="457.7" cy="1366.7" r="5.5"/><circle cx="443.9" cy="1368.6" r="5.5"/><circle cx="426.3" cy="1355.4" r="5.5"/><circle cx="408.0" cy="1336.1" r="5.5"/><circle cx="384.8" cy="1300.4" r="5.5"/><circle cx="403.5" cy="1341.0" r="5.5"/><circle cx="416.0" cy="1359.5" r="5.5"/><circle cx="449.2" cy="1386.7" r="5.5"/><circle cx="426.1" cy="1325.4" r="5.5"/><circle cx="448.4" cy="1380.7" r="5.5"/><circle cx="445.1" cy="1376.4" r="5.5"/><circle cx="521.3" cy="1339.7" r="5.5"/><circle cx="414.8" cy="1361.4" r="5.5"/><circle cx="449.9" cy="1387.1" r="5.5"/><circle cx="474.3" cy="1353.8" r="5.5"/><circle cx="508.3" cy="1297.6" r="5.5"/><circle cx="443.8" cy="1376.8" r="5.5"/><circle cx="449.3" cy="1381.4" r="5.5"/><circle cx="435.5" cy="1373.2" r="5.5"/><circle cx="449.6" cy="1387.2" r="5.5"/><circle cx="405.0" cy="1326.1" r="5.5"/><circle cx="473.6" cy="1359.5" r="5.5"/><circle cx="423.1" cy="1348.4" r="5.5"/><circle cx="472.3" cy="1366.3" r="5.5"/><circle cx="416.7" cy="1326.7" r="5.5"/><circle cx="470.7" cy="1369.5" r="5.5"/><circle cx="423.3" cy="1351.3" r="5.5"/><circle cx="504.7" cy="1341.8" r="5.5"/><circle cx="465.2" cy="1370.7" r="5.5"/><circle cx="420.5" cy="1325.2" r="5.5"/><circle cx="471.1" cy="1334.6" r="5.5"/><circle cx="452.1" cy="1387.9" r="5.5"/><circle cx="434.5" cy="1342.5" r="5.5"/><circle cx="481.0" cy="1335.7" r="5.5"/><circle cx="451.9" cy="1386.3" r="5.5"/><circle cx="447.9" cy="1384.9" r="5.5"/><circle cx="448.7" cy="1384.0" r="5.5"/><circle cx="434.7" cy="1276.0" r="5.5"/><circle cx="460.7" cy="1377.5" r="5.5"/><circle cx="478.2" cy="1312.8" r="5.5"/><circle cx="436.0" cy="1367.1" r="5.5"/><circle cx="453.9" cy="1380.5" r="5.5"/><circle cx="463.0" cy="1373.9" r="5.5"/><circle cx="435.6" cy="1362.9" r="5.5"/><circle cx="508.9" cy="1302.8" r="5.5"/><circle cx="455.2" cy="1378.9" r="5.5"/><circle cx="395.9" cy="1311.8" r="5.5"/><circle cx="423.2" cy="1338.1" r="5.5"/><circle cx="391.3" cy="1359.3" r="5.5"/><circle cx="447.1" cy="1383.1" r="5.5"/><circle cx="523.8" cy="1304.9" r="5.5"/><circle cx="440.6" cy="1379.6" r="5.5"/><circle cx="425.4" cy="1346.3" r="5.5"/><circle cx="451.3" cy="1387.7" r="5.5"/><circle cx="486.6" cy="1366.2" r="5.5"/><circle cx="375.4" cy="1315.2" r="5.5"/><circle cx="398.3" cy="1355.4" r="5.5"/><circle cx="437.6" cy="1373.6" r="5.5"/><circle cx="454.6" cy="1379.1" r="5.5"/><circle cx="462.8" cy="1351.3" r="5.5"/><circle cx="382.5" cy="1341.0" r="5.5"/><circle cx="438.6" cy="1373.2" r="5.5"/><circle cx="401.4" cy="1277.7" r="5.5"/><circle cx="464.7" cy="1371.2" r="5.5"/><circle cx="401.4" cy="1343.3" r="5.5"/><circle cx="439.8" cy="1370.4" r="5.5"/><circle cx="375.5" cy="1270.4" r="5.5"/><circle cx="475.4" cy="1321.6" r="5.5"/><circle cx="432.9" cy="1330.6" r="5.5"/><circle cx="453.6" cy="1386.4" r="5.5"/><circle cx="455.4" cy="1380.4" r="5.5"/><circle cx="487.7" cy="1270.0" r="5.5"/><circle cx="465.0" cy="1361.5" r="5.5"/><circle cx="449.9" cy="1385.6" r="5.5"/><circle cx="457.1" cy="1377.9" r="5.5"/><circle cx="459.8" cy="1373.5" r="5.5"/><circle cx="444.8" cy="1376.1" r="5.5"/><circle cx="452.5" cy="1383.0" r="5.5"/><circle cx="444.0" cy="1361.8" r="5.5"/><circle cx="438.7" cy="1348.1" r="5.5"/><circle cx="505.4" cy="1306.2" r="5.5"/><circle cx="491.2" cy="1362.9" r="5.5"/><circle cx="377.7" cy="1326.6" r="5.5"/><circle cx="465.8" cy="1328.0" r="5.5"/><circle cx="406.8" cy="1357.4" r="5.5"/><circle cx="490.2" cy="1262.0" r="5.5"/><circle cx="513.4" cy="1353.3" r="5.5"/><circle cx="487.7" cy="1321.5" r="5.5"/><circle cx="492.5" cy="1350.8" r="5.5"/><circle cx="517.5" cy="1307.3" r="5.5"/><circle cx="457.9" cy="1373.9" r="5.5"/><circle cx="454.3" cy="1380.9" r="5.5"/><circle cx="434.6" cy="1370.3" r="5.5"/><circle cx="450.8" cy="1382.6" r="5.5"/><circle cx="448.5" cy="1382.1" r="5.5"/><circle cx="411.9" cy="1362.5" r="5.5"/><circle cx="446.9" cy="1374.2" r="5.5"/><circle cx="441.1" cy="1294.1" r="5.5"/><circle cx="475.3" cy="1359.7" r="5.5"/><circle cx="450.3" cy="1386.4" r="5.5"/><circle cx="452.4" cy="1373.8" r="5.5"/><circle cx="452.8" cy="1386.5" r="5.5"/><circle cx="403.5" cy="1332.0" r="5.5"/><circle cx="389.0" cy="1295.7" r="5.5"/><circle cx="496.5" cy="1254.9" r="5.5"/><circle cx="472.4" cy="1362.7" r="5.5"/><circle cx="439.7" cy="1371.1" r="5.5"/><circle cx="414.2" cy="1303.1" r="5.5"/><circle cx="448.4" cy="1385.6" r="5.5"/><circle cx="380.5" cy="1326.7" r="5.5"/><circle cx="502.8" cy="1318.4" r="5.5"/><circle cx="432.2" cy="1371.2" r="5.5"/><circle cx="470.9" cy="1351.1" r="5.5"/><circle cx="488.2" cy="1368.6" r="5.5"/><circle cx="423.3" cy="1360.1" r="5.5"/><circle cx="535.6" cy="1317.7" r="5.5"/><circle cx="453.2" cy="1377.7" r="5.5"/><circle cx="479.3" cy="1359.6" r="5.5"/><circle cx="398.0" cy="1361.1" r="5.5"/><circle cx="424.5" cy="1342.1" r="5.5"/><circle cx="449.9" cy="1386.9" r="5.5"/><circle cx="506.8" cy="1250.4" r="5.5"/><circle cx="437.4" cy="1321.8" r="5.5"/><circle cx="463.0" cy="1371.8" r="5.5"/><circle cx="507.1" cy="1330.7" r="5.5"/><circle cx="459.1" cy="1374.4" r="5.5"/><circle cx="439.0" cy="1373.9" r="5.5"/><circle cx="477.9" cy="1345.4" r="5.5"/><circle cx="449.6" cy="1379.7" r="5.5"/><circle cx="468.2" cy="1370.4" r="5.5"/><circle cx="472.0" cy="1368.9" r="5.5"/><circle cx="477.9" cy="1358.7" r="5.5"/><circle cx="460.8" cy="1360.8" r="5.5"/><circle cx="449.7" cy="1384.0" r="5.5"/><circle cx="451.5" cy="1379.0" r="5.5"/><circle cx="491.6" cy="1320.3" r="5.5"/><circle cx="454.3" cy="1382.4" r="5.5"/><circle cx="442.1" cy="1364.1" r="5.5"/><circle cx="365.1" cy="1352.2" r="5.5"/><circle cx="498.5" cy="1358.0" r="5.5"/><circle cx="420.5" cy="1358.7" r="5.5"/><circle cx="412.5" cy="1353.0" r="5.5"/><circle cx="446.8" cy="1386.1" r="5.5"/><circle cx="470.3" cy="1374.4" r="5.5"/><circle cx="538.2" cy="1280.5" r="5.5"/><circle cx="432.9" cy="1326.9" r="5.5"/><circle cx="464.3" cy="1339.6" r="5.5"/><circle cx="450.7" cy="1387.1" r="5.5"/><circle cx="423.3" cy="1360.1" r="5.5"/><circle cx="421.5" cy="1365.7" r="5.5"/><circle cx="448.1" cy="1385.8" r="5.5"/><circle cx="454.5" cy="1378.8" r="5.5"/><circle cx="483.0" cy="1318.4" r="5.5"/><circle cx="398.1" cy="1322.4" r="5.5"/><circle cx="415.1" cy="1363.4" r="5.5"/><circle cx="485.8" cy="1355.0" r="5.5"/><circle cx="479.2" cy="1358.3" r="5.5"/><circle cx="450.8" cy="1385.1" r="5.5"/><circle cx="431.2" cy="1369.6" r="5.5"/><circle cx="477.2" cy="1292.2" r="5.5"/><circle cx="435.9" cy="1371.0" r="5.5"/><circle cx="405.7" cy="1304.6" r="5.5"/><circle cx="451.3" cy="1386.7" r="5.5"/><circle cx="424.8" cy="1358.6" r="5.5"/><circle cx="453.1" cy="1382.5" r="5.5"/><circle cx="438.7" cy="1375.5" r="5.5"/><circle cx="451.3" cy="1386.4" r="5.5"/><circle cx="456.1" cy="1356.2" r="5.5"/><circle cx="456.5" cy="1354.1" r="5.5"/><circle cx="467.3" cy="1253.3" r="5.5"/><circle cx="469.8" cy="1368.9" r="5.5"/><circle cx="399.4" cy="1319.4" r="5.5"/><circle cx="498.3" cy="1323.6" r="5.5"/><circle cx="426.8" cy="1362.5" r="5.5"/><circle cx="423.8" cy="1368.2" r="5.5"/><circle cx="484.0" cy="1287.3" r="5.5"/><circle cx="470.1" cy="1357.8" r="5.5"/><circle cx="478.7" cy="1360.8" r="5.5"/><circle cx="451.4" cy="1371.0" r="5.5"/><circle cx="477.1" cy="1346.6" r="5.5"/><circle cx="466.7" cy="1365.4" r="5.5"/><circle cx="445.2" cy="1379.2" r="5.5"/><circle cx="392.4" cy="1358.2" r="5.5"/><circle cx="448.8" cy="1382.1" r="5.5"/><circle cx="430.1" cy="1352.1" r="5.5"/><circle cx="447.3" cy="1378.4" r="5.5"/><circle cx="474.8" cy="1367.1" r="5.5"/><circle cx="480.5" cy="1366.0" r="5.5"/><circle cx="422.7" cy="1353.7" r="5.5"/><circle cx="466.1" cy="1376.6" r="5.5"/><circle cx="465.8" cy="1366.0" r="5.5"/><circle cx="455.4" cy="1380.9" r="5.5"/><circle cx="445.9" cy="1380.1" r="5.5"/><circle cx="445.5" cy="1368.5" r="5.5"/><circle cx="411.3" cy="1338.9" r="5.5"/><circle cx="451.9" cy="1385.3" r="5.5"/><circle cx="435.2" cy="1365.0" r="5.5"/><circle cx="469.0" cy="1325.5" r="5.5"/><circle cx="454.7" cy="1378.8" r="5.5"/><circle cx="532.6" cy="1316.8" r="5.5"/><circle cx="452.2" cy="1382.4" r="5.5"/><circle cx="485.0" cy="1338.5" r="5.5"/><circle cx="423.2" cy="1352.4" r="5.5"/><circle cx="482.0" cy="1279.6" r="5.5"/><circle cx="491.9" cy="1354.8" r="5.5"/><circle cx="499.2" cy="1341.5" r="5.5"/><circle cx="424.7" cy="1338.7" r="5.5"/><circle cx="428.3" cy="1369.2" r="5.5"/><circle cx="452.8" cy="1384.3" r="5.5"/><circle cx="435.5" cy="1363.9" r="5.5"/><circle cx="448.7" cy="1386.1" r="5.5"/><circle cx="482.7" cy="1364.5" r="5.5"/><circle cx="480.4" cy="1342.9" r="5.5"/><circle cx="459.3" cy="1365.3" r="5.5"/><circle cx="474.4" cy="1365.3" r="5.5"/><circle cx="457.1" cy="1378.1" r="5.5"/><circle cx="402.6" cy="1352.6" r="5.5"/><circle cx="446.0" cy="1377.7" r="5.5"/><circle cx="539.0" cy="1314.3" r="5.5"/><circle cx="491.1" cy="1330.7" r="5.5"/><circle cx="492.6" cy="1347.5" r="5.5"/><circle cx="535.8" cy="1322.5" r="5.5"/><circle cx="490.3" cy="1330.7" r="5.5"/><circle cx="492.4" cy="1337.2" r="5.5"/><circle cx="439.6" cy="1374.7" r="5.5"/><circle cx="465.9" cy="1351.7" r="5.5"/><circle cx="499.5" cy="1317.0" r="5.5"/><circle cx="508.3" cy="1268.0" r="5.5"/><circle cx="454.9" cy="1380.8" r="5.5"/><circle cx="473.2" cy="1371.2" r="5.5"/><circle cx="469.3" cy="1369.4" r="5.5"/><circle cx="508.6" cy="1267.1" r="5.5"/><circle cx="425.8" cy="1333.5" r="5.5"/><circle cx="400.0" cy="1311.8" r="5.5"/><circle cx="453.5" cy="1386.9" r="5.5"/><circle cx="413.9" cy="1349.0" r="5.5"/><circle cx="460.3" cy="1374.1" r="5.5"/><circle cx="450.8" cy="1383.5" r="5.5"/><circle cx="466.3" cy="1354.0" r="5.5"/><circle cx="442.2" cy="1375.9" r="5.5"/><circle cx="442.1" cy="1362.8" r="5.5"/><circle cx="411.4" cy="1350.0" r="5.5"/><circle cx="456.4" cy="1376.2" r="5.5"/><circle cx="483.4" cy="1308.9" r="5.5"/><circle cx="378.0" cy="1320.3" r="5.5"/><circle cx="431.5" cy="1361.9" r="5.5"/><circle cx="492.1" cy="1321.8" r="5.5"/><circle cx="395.6" cy="1287.8" r="5.5"/><circle cx="429.0" cy="1360.4" r="5.5"/><circle cx="460.3" cy="1370.1" r="5.5"/><circle cx="414.7" cy="1340.1" r="5.5"/><circle cx="437.2" cy="1343.1" r="5.5"/><circle cx="493.6" cy="1363.9" r="5.5"/><circle cx="397.2" cy="1327.8" r="5.5"/><circle cx="469.0" cy="1334.5" r="5.5"/><circle cx="530.3" cy="1305.8" r="5.5"/><circle cx="462.5" cy="1371.7" r="5.5"/><circle cx="433.7" cy="1351.8" r="5.5"/><circle cx="441.5" cy="1375.2" r="5.5"/><circle cx="502.6" cy="1357.1" r="5.5"/><circle cx="455.3" cy="1378.3" r="5.5"/><circle cx="492.4" cy="1367.5" r="5.5"/><circle cx="506.2" cy="1351.7" r="5.5"/><circle cx="479.7" cy="1365.4" r="5.5"/><circle cx="434.2" cy="1368.7" r="5.5"/><circle cx="498.9" cy="1303.4" r="5.5"/><circle cx="479.7" cy="1350.3" r="5.5"/><circle cx="454.2" cy="1373.8" r="5.5"/><circle cx="462.7" cy="1357.2" r="5.5"/><circle cx="439.7" cy="1379.3" r="5.5"/><circle cx="513.5" cy="1340.2" r="5.5"/><circle cx="450.9" cy="1381.0" r="5.5"/><circle cx="536.5" cy="1251.2" r="5.5"/><circle cx="391.3" cy="1266.9" r="5.5"/><circle cx="529.6" cy="1334.5" r="5.5"/><circle cx="470.7" cy="1316.9" r="5.5"/><circle cx="407.9" cy="1352.3" r="5.5"/><circle cx="471.6" cy="1371.5" r="5.5"/><circle cx="456.4" cy="1378.0" r="5.5"/><circle cx="440.3" cy="1377.3" r="5.5"/><circle cx="456.2" cy="1378.4" r="5.5"/><circle cx="463.8" cy="1289.3" r="5.5"/><circle cx="393.6" cy="1314.5" r="5.5"/><circle cx="453.4" cy="1381.6" r="5.5"/><circle cx="453.7" cy="1383.3" r="5.5"/><circle cx="452.0" cy="1386.6" r="5.5"/><circle cx="444.1" cy="1384.3" r="5.5"/><circle cx="433.6" cy="1355.9" r="5.5"/><circle cx="395.8" cy="1326.0" r="5.5"/><circle cx="477.5" cy="1354.9" r="5.5"/><circle cx="470.3" cy="1360.9" r="5.5"/><circle cx="473.1" cy="1286.9" r="5.5"/><circle cx="415.9" cy="1305.7" r="5.5"/><circle cx="493.9" cy="1318.8" r="5.5"/><circle cx="394.0" cy="1352.8" r="5.5"/><circle cx="489.7" cy="1313.8" r="5.5"/><circle cx="407.6" cy="1344.3" r="5.5"/><circle cx="450.7" cy="1383.2" r="5.5"/><circle cx="478.5" cy="1345.7" r="5.5"/><circle cx="453.7" cy="1380.7" r="5.5"/><circle cx="402.7" cy="1343.2" r="5.5"/><circle cx="473.1" cy="1303.2" r="5.5"/><circle cx="532.8" cy="1336.6" r="5.5"/><circle cx="454.4" cy="1380.8" r="5.5"/><circle cx="442.3" cy="1363.4" r="5.5"/><circle cx="474.7" cy="1337.8" r="5.5"/><circle cx="415.6" cy="1313.4" r="5.5"/><circle cx="441.6" cy="1367.2" r="5.5"/><circle cx="413.9" cy="1343.7" r="5.5"/><circle cx="450.0" cy="1378.2" r="5.5"/><circle cx="510.4" cy="1301.1" r="5.5"/><circle cx="453.2" cy="1384.1" r="5.5"/><circle cx="452.2" cy="1375.0" r="5.5"/><circle cx="438.2" cy="1376.4" r="5.5"/><circle cx="481.7" cy="1358.4" r="5.5"/><circle cx="441.9" cy="1369.8" r="5.5"/><circle cx="399.1" cy="1312.3" r="5.5"/><circle cx="482.8" cy="1357.2" r="5.5"/><circle cx="417.9" cy="1364.6" r="5.5"/><circle cx="528.2" cy="1341.0" r="5.5"/><circle cx="434.2" cy="1358.9" r="5.5"/><circle cx="453.2" cy="1383.7" r="5.5"/><circle cx="400.0" cy="1345.5" r="5.5"/><circle cx="429.5" cy="1331.1" r="5.5"/><circle cx="426.0" cy="1348.4" r="5.5"/><circle cx="446.7" cy="1382.1" r="5.5"/><circle cx="503.8" cy="1294.2" r="5.5"/><circle cx="461.9" cy="1348.1" r="5.5"/><circle cx="445.6" cy="1370.0" r="5.5"/><circle cx="464.1" cy="1329.1" r="5.5"/><circle cx="490.7" cy="1355.7" r="5.5"/><circle cx="448.6" cy="1382.6" r="5.5"/><circle cx="522.0" cy="1332.0" r="5.5"/><circle cx="465.8" cy="1349.0" r="5.5"/><circle cx="479.2" cy="1251.7" r="5.5"/><circle cx="437.2" cy="1366.0" r="5.5"/><circle cx="406.0" cy="1281.3" r="5.5"/><circle cx="495.4" cy="1283.9" r="5.5"/><circle cx="437.3" cy="1366.4" r="5.5"/><circle cx="472.4" cy="1360.0" r="5.5"/><circle cx="459.4" cy="1376.0" r="5.5"/><circle cx="467.9" cy="1313.3" r="5.5"/><circle cx="451.4" cy="1380.4" r="5.5"/><circle cx="450.8" cy="1379.1" r="5.5"/><circle cx="478.2" cy="1342.3" r="5.5"/><circle cx="445.8" cy="1367.2" r="5.5"/><circle cx="416.1" cy="1358.6" r="5.5"/><circle cx="439.4" cy="1356.3" r="5.5"/><circle cx="502.4" cy="1263.8" r="5.5"/><circle cx="504.8" cy="1289.3" r="5.5"/><circle cx="496.5" cy="1336.5" r="5.5"/><circle cx="530.0" cy="1337.2" r="5.5"/><circle cx="442.7" cy="1380.6" r="5.5"/><circle cx="425.0" cy="1285.3" r="5.5"/><circle cx="459.0" cy="1375.7" r="5.5"/><circle cx="471.2" cy="1293.8" r="5.5"/><circle cx="464.0" cy="1360.8" r="5.5"/><circle cx="455.5" cy="1382.3" r="5.5"/><circle cx="399.5" cy="1271.5" r="5.5"/><circle cx="447.7" cy="1380.8" r="5.5"/><circle cx="439.2" cy="1371.3" r="5.5"/><circle cx="432.7" cy="1371.9" r="5.5"/><circle cx="436.8" cy="1354.0" r="5.5"/><circle cx="538.7" cy="1260.8" r="5.5"/><circle cx="457.2" cy="1380.6" r="5.5"/><circle cx="453.6" cy="1382.2" r="5.5"/><circle cx="381.1" cy="1277.2" r="5.5"/><circle cx="412.9" cy="1358.1" r="5.5"/><circle cx="511.1" cy="1316.8" r="5.5"/><circle cx="439.9" cy="1377.9" r="5.5"/><circle cx="384.5" cy="1321.4" r="5.5"/><circle cx="458.3" cy="1373.9" r="5.5"/><circle cx="434.8" cy="1332.6" r="5.5"/><circle cx="477.0" cy="1262.1" r="5.5"/><circle cx="438.7" cy="1325.4" r="5.5"/><circle cx="515.8" cy="1333.8" r="5.5"/><circle cx="511.7" cy="1279.7" r="5.5"/><circle cx="453.2" cy="1380.0" r="5.5"/><circle cx="434.0" cy="1341.6" r="5.5"/><circle cx="428.2" cy="1332.8" r="5.5"/><circle cx="432.1" cy="1368.0" r="5.5"/><circle cx="483.4" cy="1332.8" r="5.5"/><circle cx="430.2" cy="1362.7" r="5.5"/><circle cx="458.6" cy="1371.5" r="5.5"/><circle cx="464.4" cy="1362.0" r="5.5"/><circle cx="393.5" cy="1253.4" r="5.5"/><circle cx="451.9" cy="1385.5" r="5.5"/><circle cx="451.0" cy="1386.0" r="5.5"/><circle cx="411.5" cy="1351.4" r="5.5"/><circle cx="502.1" cy="1347.6" r="5.5"/><circle cx="439.3" cy="1367.8" r="5.5"/><circle cx="418.7" cy="1341.4" r="5.5"/><circle cx="395.6" cy="1331.3" r="5.5"/><circle cx="389.7" cy="1327.7" r="5.5"/><circle cx="509.4" cy="1268.3" r="5.5"/><circle cx="443.3" cy="1381.3" r="5.5"/><circle cx="435.4" cy="1272.8" r="5.5"/><circle cx="420.4" cy="1330.9" r="5.5"/><circle cx="456.2" cy="1379.0" r="5.5"/><circle cx="464.0" cy="1375.1" r="5.5"/><circle cx="454.1" cy="1381.4" r="5.5"/><circle cx="414.8" cy="1335.3" r="5.5"/><circle cx="499.7" cy="1351.9" r="5.5"/><circle cx="440.5" cy="1366.4" r="5.5"/><circle cx="394.7" cy="1331.5" r="5.5"/><circle cx="475.0" cy="1351.0" r="5.5"/><circle cx="449.3" cy="1386.9" r="5.5"/><circle cx="393.7" cy="1342.5" r="5.5"/><circle cx="454.0" cy="1379.5" r="5.5"/><circle cx="420.1" cy="1359.9" r="5.5"/><circle cx="448.8" cy="1385.9" r="5.5"/><circle cx="443.3" cy="1373.8" r="5.5"/><circle cx="522.5" cy="1276.4" r="5.5"/><circle cx="435.8" cy="1371.2" r="5.5"/><circle cx="475.8" cy="1367.6" r="5.5"/><circle cx="454.0" cy="1381.6" r="5.5"/><circle cx="497.8" cy="1353.0" r="5.5"/><circle cx="468.5" cy="1306.3" r="5.5"/><circle cx="450.7" cy="1385.2" r="5.5"/><circle cx="517.9" cy="1310.5" r="5.5"/><circle cx="393.9" cy="1330.1" r="5.5"/><circle cx="499.8" cy="1330.6" r="5.5"/><circle cx="391.1" cy="1345.0" r="5.5"/><circle cx="420.8" cy="1345.5" r="5.5"/><circle cx="414.5" cy="1347.8" r="5.5"/><circle cx="436.4" cy="1358.1" r="5.5"/><circle cx="453.0" cy="1379.6" r="5.5"/><circle cx="449.7" cy="1383.6" r="5.5"/><circle cx="434.4" cy="1349.7" r="5.5"/><circle cx="379.9" cy="1338.8" r="5.5"/><circle cx="408.3" cy="1322.4" r="5.5"/><circle cx="466.1" cy="1368.2" r="5.5"/><circle cx="445.7" cy="1380.5" r="5.5"/><circle cx="460.7" cy="1355.8" r="5.5"/><circle cx="458.2" cy="1377.4" r="5.5"/><circle cx="500.3" cy="1328.5" r="5.5"/><circle cx="404.9" cy="1364.8" r="5.5"/><circle cx="510.0" cy="1272.0" r="5.5"/><circle cx="507.8" cy="1348.0" r="5.5"/><circle cx="417.8" cy="1338.6" r="5.5"/><circle cx="410.1" cy="1353.9" r="5.5"/><circle cx="400.2" cy="1330.5" r="5.5"/><circle cx="415.3" cy="1356.5" r="5.5"/><circle cx="502.8" cy="1336.5" r="5.5"/><circle cx="476.6" cy="1313.3" r="5.5"/><circle cx="494.8" cy="1304.6" r="5.5"/><circle cx="377.4" cy="1321.2" r="5.5"/><circle cx="464.4" cy="1376.2" r="5.5"/><circle cx="416.3" cy="1347.4" r="5.5"/><circle cx="427.8" cy="1320.2" r="5.5"/><circle cx="456.1" cy="1374.5" r="5.5"/><circle cx="407.9" cy="1364.9" r="5.5"/><circle cx="421.1" cy="1358.3" r="5.5"/><circle cx="451.8" cy="1383.8" r="5.5"/><circle cx="397.4" cy="1362.3" r="5.5"/><circle cx="422.7" cy="1368.3" r="5.5"/><circle cx="394.0" cy="1357.1" r="5.5"/><circle cx="464.2" cy="1282.6" r="5.5"/><circle cx="383.2" cy="1337.7" r="5.5"/><circle cx="444.2" cy="1376.9" r="5.5"/><circle cx="456.8" cy="1383.3" r="5.5"/><circle cx="403.6" cy="1325.4" r="5.5"/><circle cx="437.5" cy="1304.6" r="5.5"/><circle cx="418.8" cy="1357.8" r="5.5"/><circle cx="436.7" cy="1368.0" r="5.5"/><circle cx="451.2" cy="1382.5" r="5.5"/><circle cx="428.3" cy="1296.3" r="5.5"/><circle cx="456.3" cy="1382.8" r="5.5"/><circle cx="451.5" cy="1386.8" r="5.5"/><circle cx="446.5" cy="1385.0" r="5.5"/><circle cx="431.5" cy="1361.8" r="5.5"/><circle cx="424.8" cy="1334.8" r="5.5"/><circle cx="441.8" cy="1370.4" r="5.5"/><circle cx="463.7" cy="1283.6" r="5.5"/><circle cx="442.8" cy="1375.2" r="5.5"/><circle cx="537.7" cy="1307.9" r="5.5"/><circle cx="538.8" cy="1272.3" r="5.5"/><circle cx="515.9" cy="1276.6" r="5.5"/><circle cx="532.2" cy="1266.7" r="5.5"/><circle cx="474.6" cy="1332.9" r="5.5"/><circle cx="515.2" cy="1333.7" r="5.5"/><circle cx="446.0" cy="1379.9" r="5.5"/><circle cx="525.8" cy="1340.8" r="5.5"/><circle cx="467.8" cy="1372.5" r="5.5"/><circle cx="501.9" cy="1315.1" r="5.5"/><circle cx="538.7" cy="1328.8" r="5.5"/><circle cx="459.6" cy="1369.8" r="5.5"/><circle cx="410.8" cy="1315.6" r="5.5"/><circle cx="445.5" cy="1387.7" r="5.5"/><circle cx="440.3" cy="1322.6" r="5.5"/><circle cx="464.4" cy="1375.3" r="5.5"/><circle cx="449.8" cy="1387.1" r="5.5"/><circle cx="425.1" cy="1328.7" r="5.5"/><circle cx="405.7" cy="1336.0" r="5.5"/><circle cx="498.5" cy="1354.0" r="5.5"/><circle cx="437.6" cy="1369.1" r="5.5"/><circle cx="452.0" cy="1384.6" r="5.5"/><circle cx="438.0" cy="1302.6" r="5.5"/><circle cx="457.7" cy="1376.5" r="5.5"/><circle cx="448.8" cy="1386.1" r="5.5"/><circle cx="514.5" cy="1315.8" r="5.5"/><circle cx="436.7" cy="1336.2" r="5.5"/><circle cx="447.7" cy="1384.0" r="5.5"/><circle cx="462.6" cy="1261.8" r="5.5"/><circle cx="419.3" cy="1338.8" r="5.5"/><circle cx="468.3" cy="1369.1" r="5.5"/><circle cx="438.3" cy="1369.6" r="5.5"/><circle cx="526.3" cy="1359.6" r="5.5"/><circle cx="448.4" cy="1387.8" r="5.5"/><circle cx="425.4" cy="1330.3" r="5.5"/><circle cx="414.7" cy="1305.6" r="5.5"/><circle cx="388.8" cy="1331.4" r="5.5"/><circle cx="484.3" cy="1250.6" r="5.5"/><circle cx="530.2" cy="1272.1" r="5.5"/><circle cx="501.5" cy="1328.2" r="5.5"/><circle cx="433.9" cy="1368.6" r="5.5"/><circle cx="401.7" cy="1277.5" r="5.5"/><circle cx="466.7" cy="1366.1" r="5.5"/><circle cx="479.8" cy="1359.4" r="5.5"/><circle cx="436.2" cy="1348.1" r="5.5"/><circle cx="453.2" cy="1379.8" r="5.5"/><circle cx="436.4" cy="1360.8" r="5.5"/><circle cx="444.3" cy="1380.5" r="5.5"/><circle cx="441.3" cy="1376.7" r="5.5"/><circle cx="433.3" cy="1304.6" r="5.5"/><circle cx="436.8" cy="1352.6" r="5.5"/><circle cx="479.2" cy="1339.5" r="5.5"/><circle cx="419.6" cy="1363.7" r="5.5"/><circle cx="451.8" cy="1387.5" r="5.5"/><circle cx="416.2" cy="1360.7" r="5.5"/><circle cx="385.2" cy="1297.8" r="5.5"/><circle cx="447.9" cy="1386.1" r="5.5"/><circle cx="454.3" cy="1384.7" r="5.5"/><circle cx="399.1" cy="1351.5" r="5.5"/><circle cx="452.8" cy="1386.9" r="5.5"/><circle cx="445.4" cy="1381.9" r="5.5"/><circle cx="446.7" cy="1384.7" r="5.5"/><circle cx="456.7" cy="1377.4" r="5.5"/><circle cx="504.1" cy="1347.0" r="5.5"/><circle cx="443.5" cy="1376.5" r="5.5"/><circle cx="458.8" cy="1367.7" r="5.5"/><circle cx="411.1" cy="1353.8" r="5.5"/><circle cx="439.3" cy="1349.4" r="5.5"/><circle cx="451.9" cy="1384.1" r="5.5"/><circle cx="478.7" cy="1364.2" r="5.5"/><circle cx="420.2" cy="1269.7" r="5.5"/><circle cx="456.8" cy="1373.6" r="5.5"/><circle cx="430.1" cy="1368.4" r="5.5"/><circle cx="387.0" cy="1316.4" r="5.5"/><circle cx="436.5" cy="1358.8" r="5.5"/><circle cx="506.1" cy="1336.4" r="5.5"/><circle cx="438.2" cy="1294.0" r="5.5"/><circle cx="531.2" cy="1265.8" r="5.5"/><circle cx="397.4" cy="1261.4" r="5.5"/><circle cx="499.6" cy="1338.5" r="5.5"/><circle cx="438.9" cy="1376.5" r="5.5"/><circle cx="465.9" cy="1286.9" r="5.5"/><circle cx="487.7" cy="1349.6" r="5.5"/><circle cx="522.1" cy="1301.9" r="5.5"/><circle cx="452.1" cy="1380.4" r="5.5"/><circle cx="479.1" cy="1336.6" r="5.5"/><circle cx="484.7" cy="1310.0" r="5.5"/><circle cx="429.5" cy="1367.1" r="5.5"/><circle cx="475.5" cy="1366.6" r="5.5"/><circle cx="445.5" cy="1364.0" r="5.5"/><circle cx="507.4" cy="1328.9" r="5.5"/><circle cx="416.9" cy="1289.9" r="5.5"/><circle cx="479.9" cy="1295.7" r="5.5"/><circle cx="415.2" cy="1359.4" r="5.5"/><circle cx="459.9" cy="1370.7" r="5.5"/><circle cx="435.5" cy="1322.1" r="5.5"/><circle cx="388.6" cy="1270.0" r="5.5"/><circle cx="450.1" cy="1384.9" r="5.5"/><circle cx="439.2" cy="1374.5" r="5.5"/><circle cx="452.0" cy="1384.0" r="5.5"/><circle cx="435.7" cy="1364.5" r="5.5"/><circle cx="424.2" cy="1342.9" r="5.5"/><circle cx="438.3" cy="1358.2" r="5.5"/><circle cx="450.2" cy="1386.2" r="5.5"/><circle cx="434.0" cy="1255.0" r="5.5"/><circle cx="402.2" cy="1317.4" r="5.5"/><circle cx="482.0" cy="1324.7" r="5.5"/><circle cx="463.2" cy="1359.1" r="5.5"/><circle cx="493.7" cy="1291.3" r="5.5"/><circle cx="498.3" cy="1357.6" r="5.5"/><circle cx="447.0" cy="1376.1" r="5.5"/><circle cx="423.6" cy="1340.0" r="5.5"/><circle cx="474.5" cy="1309.6" r="5.5"/><circle cx="427.1" cy="1325.7" r="5.5"/><circle cx="440.0" cy="1329.1" r="5.5"/><circle cx="455.1" cy="1381.7" r="5.5"/><circle cx="423.1" cy="1333.3" r="5.5"/><circle cx="450.0" cy="1385.9" r="5.5"/><circle cx="465.2" cy="1368.9" r="5.5"/><circle cx="483.4" cy="1348.3" r="5.5"/><circle cx="390.4" cy="1300.0" r="5.5"/><circle cx="435.2" cy="1375.2" r="5.5"/><circle cx="432.2" cy="1335.8" r="5.5"/><circle cx="371.9" cy="1317.9" r="5.5"/><circle cx="453.9" cy="1382.3" r="5.5"/><circle cx="443.4" cy="1378.3" r="5.5"/><circle cx="391.8" cy="1349.6" r="5.5"/><circle cx="512.8" cy="1305.6" r="5.5"/><circle cx="466.0" cy="1340.9" r="5.5"/><circle cx="438.2" cy="1374.0" r="5.5"/><circle cx="468.3" cy="1337.5" r="5.5"/><circle cx="516.5" cy="1273.9" r="5.5"/><circle cx="438.6" cy="1317.0" r="5.5"/><circle cx="512.2" cy="1311.8" r="5.5"/><circle cx="475.3" cy="1335.5" r="5.5"/><circle cx="433.5" cy="1371.7" r="5.5"/><circle cx="423.0" cy="1334.3" r="5.5"/><circle cx="465.0" cy="1359.5" r="5.5"/><circle cx="456.1" cy="1372.0" r="5.5"/><circle cx="471.9" cy="1355.2" r="5.5"/><circle cx="441.4" cy="1375.7" r="5.5"/><circle cx="490.2" cy="1333.2" r="5.5"/><circle cx="457.5" cy="1374.3" r="5.5"/><circle cx="499.3" cy="1344.3" r="5.5"/><circle cx="451.0" cy="1385.4" r="5.5"/><circle cx="465.3" cy="1361.3" r="5.5"/><circle cx="441.7" cy="1357.9" r="5.5"/><circle cx="427.9" cy="1300.5" r="5.5"/><circle cx="425.7" cy="1366.7" r="5.5"/><circle cx="539.1" cy="1316.6" r="5.5"/><circle cx="488.0" cy="1307.3" r="5.5"/><circle cx="422.1" cy="1336.0" r="5.5"/><circle cx="446.3" cy="1377.7" r="5.5"/><circle cx="532.5" cy="1299.9" r="5.5"/><circle cx="425.4" cy="1364.4" r="5.5"/><circle cx="424.8" cy="1364.9" r="5.5"/><circle cx="451.6" cy="1383.8" r="5.5"/><circle cx="448.0" cy="1386.1" r="5.5"/><circle cx="439.8" cy="1375.1" r="5.5"/><circle cx="431.8" cy="1366.6" r="5.5"/><circle cx="495.9" cy="1298.0" r="5.5"/><circle cx="456.0" cy="1374.5" r="5.5"/><circle cx="484.9" cy="1274.3" r="5.5"/><circle cx="473.4" cy="1262.6" r="5.5"/><circle cx="464.3" cy="1373.3" r="5.5"/><circle cx="373.5" cy="1251.7" r="5.5"/><circle cx="493.9" cy="1296.3" r="5.5"/><circle cx="460.5" cy="1366.0" r="5.5"/><circle cx="388.4" cy="1337.4" r="5.5"/><circle cx="442.2" cy="1379.6" r="5.5"/><circle cx="436.3" cy="1270.9" r="5.5"/><circle cx="458.6" cy="1371.0" r="5.5"/><circle cx="460.8" cy="1373.6" r="5.5"/><circle cx="482.8" cy="1362.4" r="5.5"/><circle cx="440.0" cy="1376.1" r="5.5"/><circle cx="448.7" cy="1380.7" r="5.5"/><circle cx="424.7" cy="1356.9" r="5.5"/><circle cx="446.4" cy="1371.8" r="5.5"/><circle cx="500.2" cy="1363.7" r="5.5"/><circle cx="536.4" cy="1281.4" r="5.5"/><circle cx="465.3" cy="1370.7" r="5.5"/><circle cx="454.6" cy="1378.8" r="5.5"/><circle cx="423.0" cy="1310.4" r="5.5"/><circle cx="427.2" cy="1367.5" r="5.5"/><circle cx="500.0" cy="1347.1" r="5.5"/><circle cx="422.0" cy="1353.8" r="5.5"/><circle cx="435.0" cy="1366.2" r="5.5"/><circle cx="505.8" cy="1287.7" r="5.5"/><circle cx="451.7" cy="1386.0" r="5.5"/><circle cx="449.0" cy="1384.9" r="5.5"/><circle cx="469.3" cy="1361.8" r="5.5"/><circle cx="479.4" cy="1342.2" r="5.5"/><circle cx="487.3" cy="1365.6" r="5.5"/><circle cx="413.9" cy="1354.6" r="5.5"/><circle cx="508.3" cy="1344.2" r="5.5"/><circle cx="455.7" cy="1376.8" r="5.5"/><circle cx="508.8" cy="1253.2" r="5.5"/><circle cx="477.9" cy="1308.1" r="5.5"/><circle cx="479.6" cy="1351.3" r="5.5"/><circle cx="417.2" cy="1322.3" r="5.5"/><circle cx="489.4" cy="1358.6" r="5.5"/><circle cx="435.7" cy="1371.0" r="5.5"/><circle cx="459.0" cy="1364.0" r="5.5"/><circle cx="523.3" cy="1287.8" r="5.5"/><circle cx="434.8" cy="1371.6" r="5.5"/><circle cx="417.1" cy="1356.2" r="5.5"/><circle cx="457.2" cy="1369.4" r="5.5"/><circle cx="450.9" cy="1384.4" r="5.5"/><circle cx="431.1" cy="1347.6" r="5.5"/><circle cx="448.5" cy="1387.5" r="5.5"/><circle cx="420.8" cy="1326.7" r="5.5"/><circle cx="501.3" cy="1278.8" r="5.5"/><circle cx="409.1" cy="1362.0" r="5.5"/><circle cx="489.1" cy="1359.5" r="5.5"/><circle cx="413.0" cy="1346.4" r="5.5"/><circle cx="462.7" cy="1365.3" r="5.5"/><circle cx="464.5" cy="1246.7" r="5.5"/><circle cx="429.5" cy="1360.7" r="5.5"/><circle cx="472.8" cy="1372.9" r="5.5"/><circle cx="439.6" cy="1320.8" r="5.5"/><circle cx="483.1" cy="1350.8" r="5.5"/><circle cx="465.0" cy="1373.6" r="5.5"/><circle cx="431.0" cy="1345.2" r="5.5"/><circle cx="527.5" cy="1310.8" r="5.5"/><circle cx="484.9" cy="1368.3" r="5.5"/><circle cx="451.1" cy="1384.6" r="5.5"/><circle cx="399.2" cy="1317.6" r="5.5"/><circle cx="440.0" cy="1372.8" r="5.5"/><circle cx="452.0" cy="1383.2" r="5.5"/><circle cx="451.5" cy="1386.6" r="5.5"/><circle cx="532.1" cy="1315.1" r="5.5"/><circle cx="448.7" cy="1374.8" r="5.5"/><circle cx="448.4" cy="1383.3" r="5.5"/><circle cx="447.9" cy="1387.9" r="5.5"/><circle cx="422.9" cy="1368.4" r="5.5"/><circle cx="490.0" cy="1344.6" r="5.5"/><circle cx="522.0" cy="1266.5" r="5.5"/><circle cx="487.1" cy="1362.0" r="5.5"/><circle cx="401.2" cy="1355.4" r="5.5"/><circle cx="446.3" cy="1375.7" r="5.5"/><circle cx="444.3" cy="1382.3" r="5.5"/><circle cx="443.5" cy="1379.5" r="5.5"/><circle cx="429.4" cy="1369.9" r="5.5"/><circle cx="442.5" cy="1379.4" r="5.5"/><circle cx="445.6" cy="1380.8" r="5.5"/><circle cx="400.5" cy="1296.8" r="5.5"/><circle cx="419.6" cy="1315.6" r="5.5"/><circle cx="451.3" cy="1387.9" r="5.5"/><circle cx="496.5" cy="1358.5" r="5.5"/><circle cx="497.6" cy="1334.8" r="5.5"/><circle cx="369.9" cy="1324.0" r="5.5"/><circle cx="492.0" cy="1311.1" r="5.5"/><circle cx="402.1" cy="1309.5" r="5.5"/><circle cx="448.5" cy="1387.6" r="5.5"/><circle cx="507.3" cy="1339.0" r="5.5"/><circle cx="437.3" cy="1375.4" r="5.5"/><circle cx="440.9" cy="1264.2" r="5.5"/><circle cx="397.3" cy="1277.5" r="5.5"/><circle cx="415.7" cy="1292.0" r="5.5"/><circle cx="488.9" cy="1343.6" r="5.5"/><circle cx="479.2" cy="1368.1" r="5.5"/><circle cx="420.4" cy="1354.8" r="5.5"/><circle cx="449.9" cy="1386.1" r="5.5"/><circle cx="443.1" cy="1370.2" r="5.5"/><circle cx="393.9" cy="1348.8" r="5.5"/><circle cx="504.9" cy="1302.6" r="5.5"/><circle cx="456.6" cy="1383.2" r="5.5"/><circle cx="464.7" cy="1360.3" r="5.5"/><circle cx="446.8" cy="1377.0" r="5.5"/><circle cx="431.7" cy="1362.0" r="5.5"/><circle cx="449.9" cy="1387.7" r="5.5"/><circle cx="469.4" cy="1327.3" r="5.5"/><circle cx="512.8" cy="1348.6" r="5.5"/><circle cx="420.7" cy="1364.3" r="5.5"/><circle cx="421.5" cy="1335.4" r="5.5"/><circle cx="453.1" cy="1385.9" r="5.5"/><circle cx="451.1" cy="1384.1" r="5.5"/><circle cx="537.1" cy="1322.5" r="5.5"/><circle cx="449.4" cy="1385.4" r="5.5"/><circle cx="449.2" cy="1378.2" r="5.5"/><circle cx="473.3" cy="1344.1" r="5.5"/><circle cx="468.8" cy="1353.2" r="5.5"/><circle cx="454.9" cy="1371.3" r="5.5"/><circle cx="423.6" cy="1321.8" r="5.5"/><circle cx="522.3" cy="1328.6" r="5.5"/><circle cx="435.2" cy="1309.1" r="5.5"/><circle cx="415.9" cy="1331.8" r="5.5"/><circle cx="447.6" cy="1382.5" r="5.5"/><circle cx="511.9" cy="1333.3" r="5.5"/><circle cx="448.1" cy="1378.1" r="5.5"/><circle cx="497.8" cy="1325.2" r="5.5"/><circle cx="465.5" cy="1353.9" r="5.5"/><circle cx="441.8" cy="1359.5" r="5.5"/><circle cx="497.8" cy="1346.3" r="5.5"/><circle cx="462.3" cy="1370.7" r="5.5"/><circle cx="451.7" cy="1383.6" r="5.5"/><circle cx="492.4" cy="1318.2" r="5.5"/><circle cx="434.2" cy="1320.1" r="5.5"/><circle cx="500.2" cy="1355.8" r="5.5"/><circle cx="431.2" cy="1361.0" r="5.5"/><circle cx="370.5" cy="1298.9" r="5.5"/><circle cx="501.2" cy="1354.2" r="5.5"/><circle cx="376.0" cy="1319.8" r="5.5"/><circle cx="423.7" cy="1291.4" r="5.5"/><circle cx="457.2" cy="1374.7" r="5.5"/><circle cx="456.7" cy="1374.1" r="5.5"/><circle cx="481.7" cy="1360.3" r="5.5"/><circle cx="417.2" cy="1324.1" r="5.5"/><circle cx="516.9" cy="1331.8" r="5.5"/><circle cx="530.4" cy="1308.4" r="5.5"/><circle cx="502.5" cy="1352.9" r="5.5"/><circle cx="431.5" cy="1354.1" r="5.5"/><circle cx="439.1" cy="1363.9" r="5.5"/><circle cx="458.7" cy="1367.1" r="5.5"/><circle cx="515.2" cy="1350.7" r="5.5"/><circle cx="453.4" cy="1388.0" r="5.5"/><circle cx="448.1" cy="1374.7" r="5.5"/><circle cx="444.6" cy="1366.1" r="5.5"/><circle cx="410.6" cy="1356.9" r="5.5"/><circle cx="461.7" cy="1376.5" r="5.5"/><circle cx="400.3" cy="1302.7" r="5.5"/><circle cx="449.1" cy="1386.9" r="5.5"/><circle cx="495.2" cy="1362.0" r="5.5"/><circle cx="418.8" cy="1305.5" r="5.5"/><circle cx="449.9" cy="1385.6" r="5.5"/><circle cx="425.2" cy="1288.7" r="5.5"/><circle cx="449.4" cy="1381.7" r="5.5"/><circle cx="471.5" cy="1326.6" r="5.5"/><circle cx="454.2" cy="1387.5" r="5.5"/><circle cx="445.5" cy="1374.2" r="5.5"/><circle cx="406.1" cy="1296.3" r="5.5"/><circle cx="488.8" cy="1303.1" r="5.5"/><circle cx="394.4" cy="1323.4" r="5.5"/><circle cx="395.6" cy="1260.0" r="5.5"/><circle cx="449.3" cy="1380.6" r="5.5"/><circle cx="515.4" cy="1350.7" r="5.5"/><circle cx="451.0" cy="1384.5" r="5.5"/><circle cx="522.9" cy="1311.2" r="5.5"/><circle cx="442.3" cy="1374.3" r="5.5"/><circle cx="514.2" cy="1355.8" r="5.5"/><circle cx="471.8" cy="1369.8" r="5.5"/><circle cx="502.2" cy="1345.0" r="5.5"/><circle cx="454.2" cy="1382.6" r="5.5"/><circle cx="396.7" cy="1323.4" r="5.5"/><circle cx="386.2" cy="1322.4" r="5.5"/><circle cx="509.9" cy="1347.0" r="5.5"/><circle cx="528.7" cy="1336.2" r="5.5"/><circle cx="501.7" cy="1343.3" r="5.5"/><circle cx="455.6" cy="1369.9" r="5.5"/><circle cx="408.5" cy="1348.8" r="5.5"/><circle cx="481.5" cy="1366.4" r="5.5"/><circle cx="461.7" cy="1322.5" r="5.5"/><circle cx="433.0" cy="1351.6" r="5.5"/><circle cx="499.8" cy="1267.6" r="5.5"/><circle cx="450.9" cy="1385.8" r="5.5"/><circle cx="407.4" cy="1316.3" r="5.5"/><circle cx="386.2" cy="1345.7" r="5.5"/><circle cx="475.1" cy="1349.5" r="5.5"/><circle cx="454.1" cy="1373.7" r="5.5"/><circle cx="481.2" cy="1355.3" r="5.5"/><circle cx="473.0" cy="1365.5" r="5.5"/><circle cx="484.4" cy="1330.1" r="5.5"/><circle cx="414.7" cy="1334.7" r="5.5"/><circle cx="470.9" cy="1334.6" r="5.5"/><circle cx="449.1" cy="1384.2" r="5.5"/><circle cx="443.8" cy="1381.8" r="5.5"/><circle cx="395.1" cy="1282.1" r="5.5"/><circle cx="389.0" cy="1261.0" r="5.5"/><circle cx="526.5" cy="1321.6" r="5.5"/><circle cx="408.5" cy="1352.6" r="5.5"/><circle cx="487.7" cy="1320.1" r="5.5"/><circle cx="436.2" cy="1371.8" r="5.5"/><circle cx="519.0" cy="1344.2" r="5.5"/><circle cx="428.2" cy="1367.9" r="5.5"/><circle cx="478.2" cy="1366.8" r="5.5"/><circle cx="459.7" cy="1347.5" r="5.5"/><circle cx="439.9" cy="1315.2" r="5.5"/><circle cx="430.6" cy="1363.4" r="5.5"/><circle cx="498.3" cy="1300.0" r="5.5"/><circle cx="445.4" cy="1373.1" r="5.5"/><circle cx="435.8" cy="1285.0" r="5.5"/><circle cx="457.2" cy="1365.0" r="5.5"/><circle cx="461.1" cy="1374.6" r="5.5"/><circle cx="450.3" cy="1382.9" r="5.5"/><circle cx="445.9" cy="1379.0" r="5.5"/><circle cx="435.5" cy="1367.1" r="5.5"/><circle cx="381.3" cy="1341.8" r="5.5"/><circle cx="442.5" cy="1368.9" r="5.5"/><circle cx="511.8" cy="1331.0" r="5.5"/><circle cx="442.4" cy="1333.5" r="5.5"/><circle cx="468.6" cy="1355.0" r="5.5"/><circle cx="494.8" cy="1304.6" r="5.5"/><circle cx="447.0" cy="1375.6" r="5.5"/><circle cx="440.8" cy="1366.5" r="5.5"/><circle cx="483.5" cy="1279.0" r="5.5"/><circle cx="488.3" cy="1343.3" r="5.5"/><circle cx="413.9" cy="1297.4" r="5.5"/><circle cx="481.4" cy="1340.4" r="5.5"/><circle cx="504.9" cy="1346.4" r="5.5"/><circle cx="365.6" cy="1355.7" r="5.5"/><circle cx="452.7" cy="1382.1" r="5.5"/><circle cx="455.6" cy="1383.6" r="5.5"/><circle cx="467.2" cy="1374.4" r="5.5"/><circle cx="423.5" cy="1285.6" r="5.5"/><circle cx="440.2" cy="1354.6" r="5.5"/><circle cx="456.5" cy="1373.2" r="5.5"/><circle cx="428.0" cy="1347.2" r="5.5"/><circle cx="454.9" cy="1376.1" r="5.5"/><circle cx="411.9" cy="1246.5" r="5.5"/><circle cx="414.7" cy="1311.1" r="5.5"/><circle cx="470.4" cy="1371.9" r="5.5"/><circle cx="437.9" cy="1357.6" r="5.5"/><circle cx="439.0" cy="1356.8" r="5.5"/><circle cx="432.4" cy="1341.3" r="5.5"/><circle cx="468.0" cy="1374.9" r="5.5"/><circle cx="429.7" cy="1371.9" r="5.5"/><circle cx="405.0" cy="1301.7" r="5.5"/><circle cx="430.5" cy="1354.6" r="5.5"/><circle cx="448.6" cy="1386.9" r="5.5"/><circle cx="449.5" cy="1384.5" r="5.5"/><circle cx="455.1" cy="1380.8" r="5.5"/><circle cx="466.1" cy="1290.5" r="5.5"/><circle cx="478.6" cy="1257.4" r="5.5"/><circle cx="488.1" cy="1360.2" r="5.5"/><circle cx="451.6" cy="1385.1" r="5.5"/><circle cx="425.9" cy="1365.0" r="5.5"/><circle cx="519.0" cy="1334.1" r="5.5"/><circle cx="438.5" cy="1372.5" r="5.5"/><circle cx="438.0" cy="1337.7" r="5.5"/><circle cx="439.2" cy="1348.0" r="5.5"/><circle cx="457.9" cy="1379.0" r="5.5"/><circle cx="403.0" cy="1346.6" r="5.5"/><circle cx="512.6" cy="1360.6" r="5.5"/><circle cx="433.6" cy="1261.2" r="5.5"/><circle cx="420.9" cy="1317.7" r="5.5"/><circle cx="415.6" cy="1330.1" r="5.5"/><circle cx="415.0" cy="1362.1" r="5.5"/><circle cx="433.2" cy="1353.4" r="5.5"/><circle cx="412.5" cy="1346.1" r="5.5"/><circle cx="448.0" cy="1376.3" r="5.5"/><circle cx="445.8" cy="1375.5" r="5.5"/><circle cx="402.6" cy="1350.2" r="5.5"/><circle cx="479.2" cy="1366.5" r="5.5"/><circle cx="442.1" cy="1378.9" r="5.5"/><circle cx="478.3" cy="1354.4" r="5.5"/><circle cx="443.8" cy="1374.5" r="5.5"/></g>
<path d="M111.0 1243.6H126.7M146.2 1243.6H165.1M184.5 1243.6H203.4M222.8 1243.6H241.8M261.2 1243.6H280.1M299.6 1243.6H318.4M337.9 1243.6H356.8M376.3 1243.6H395.2M414.6 1243.6H433.5M453.0 1243.6H471.9M491.3 1243.6H510.2M529.7 1243.6H548.6M568.0 1243.6H586.9M606.4 1243.6H625.3M644.7 1243.6H663.6M683.1 1243.6H702.0M721.4 1243.6H740.3M759.8 1243.6H778.7M798.1 1243.6H817.0M836.5 1243.6H855.4M874.8 1243.6H893.7M913.2 1243.6H932.1M951.5 1243.6H970.4M989.9 1243.6H991.0" stroke="#222" stroke-width="1.9" fill="none"/>
<g fill="#ff0a0a"><circle cx="543.2" cy="1061.2" r="5.3"/><circle cx="615.0" cy="1149.4" r="5.3"/><circle cx="600.8" cy="1157.0" r="5.3"/><circle cx="590.0" cy="1170.8" r="5.3"/><circle cx="541.2" cy="1212.5" r="5.3"/><circle cx="548.8" cy="1209.2" r="5.3"/><circle cx="564.2" cy="1218.2" r="5.3"/><circle cx="540.9" cy="1237.0" r="5.3"/><circle cx="542.2" cy="1243.5" r="5.3"/><circle cx="574.4" cy="1240.2" r="5.3"/><circle cx="629.4" cy="1239.4" r="5.3"/><circle cx="640.1" cy="1235.6" r="5.3"/></g>
<g fill="#10ba10" stroke="#000" stroke-width="2.2"><circle cx="851.8" cy="1119.5" r="5.6"/><circle cx="953.5" cy="1218.8" r="5.6"/><circle cx="655.5" cy="1095.0" r="5.6"/><circle cx="671.8" cy="1088.8" r="5.6"/><circle cx="679.5" cy="1103.4" r="5.6"/><circle cx="569.2" cy="1134.5" r="5.6"/><circle cx="551.1" cy="1152.8" r="5.6"/><circle cx="623.2" cy="1155.6" r="5.6"/><circle cx="596.8" cy="1218.8" r="5.6"/></g>
<g fill="#1810e6" stroke="#000" stroke-width="2.2"><circle cx="846.2" cy="854.2" r="5.6"/><circle cx="593.8" cy="1020.8" r="5.6"/><circle cx="642.0" cy="1046.2" r="5.6"/><circle cx="543.0" cy="1126.0" r="5.6"/><circle cx="558.2" cy="1141.8" r="5.6"/><circle cx="638.8" cy="1133.8" r="5.6"/><circle cx="607.0" cy="1161.2" r="5.6"/><circle cx="547.5" cy="1172.3" r="5.6"/><circle cx="608.8" cy="1184.5" r="5.6"/><circle cx="553.8" cy="1198.8" r="5.6"/><circle cx="587.5" cy="1218.2" r="5.6"/></g>
</g>
<rect x="108.3" y="827.4" width="885.7" height="587.4" fill="none" stroke="#000" stroke-width="6" stroke-linejoin="round"/>
<path d="M162.4 1414V1419.4M450.1 1414V1419.4M737.8 1414V1419.4M103 1388.0H108.5M103 1276.9H108.5M103 1165.8H108.5M103 1054.8H108.5M103 943.7H108.5M103 832.6H108.5" stroke="#000" stroke-width="2.8" fill="none"/>
<defs><clipPath id="k0"><path d="M69.30 432.30H100.00V475.61H69.30ZM83.37 475.50H87.61V481.30H83.37Z"/></clipPath><clipPath id="k1"><path d="M937.32 676.60H995.28V720.38H937.32ZM951.52 720.25H955.80V726.10H951.52ZM966.30 676.60H995.28V727.10H966.30Z"/></clipPath><clipPath id="k2"><path d="M64.07 1260.00H95.60V1304.70H64.07ZM78.52 1304.55H82.89V1310.50H78.52Z"/></clipPath></defs>
<g fill="#000"><text transform="translate(-1.35,42.0) scale(0.906,1)" font-family="Liberation Sans, Arial, sans-serif" font-size="76.6" fill="#2a2726">a</text><text x="-1.1" y="800.7" font-family="Liberation Sans, Arial, sans-serif" font-size="76" fill="#2a2726">b</text><text x="120.9" y="62.5" font-family="Liberation Sans, Arial, sans-serif" font-size="22.95" font-weight="bold" fill="#dc0a0a">wt vs SigE-HA (NO stress)</text><text x="120.3" y="862.5" font-family="Liberation Sans, Arial, sans-serif" font-size="22.95" font-weight="bold" fill="#dc0a0a">wt vs SigE-HA (EtOH)</text><text x="98" y="122.7" font-family="Liberation Sans, Arial, sans-serif" font-size="48" text-anchor="end">3</text><text x="98" y="301.5" font-family="Liberation Sans, Arial, sans-serif" font-size="48" text-anchor="end">2</text><text x="98" y="480.3" font-family="Liberation Sans, Arial, sans-serif" font-size="48" text-anchor="end" clip-path="url(#k0)">1</text><text x="98" y="659.1" font-family="Liberation Sans, Arial, sans-serif" font-size="48" text-anchor="end">0</text><text x="151.6" y="725.1" font-family="Liberation Sans, Arial, sans-serif" font-size="48.5" text-anchor="middle">-5</text><text x="422.2" y="725.1" font-family="Liberation Sans, Arial, sans-serif" font-size="48.5" text-anchor="middle">0</text><text x="693.6" y="725.1" font-family="Liberation Sans, Arial, sans-serif" font-size="48.5" text-anchor="middle">5</text><text x="966.3" y="725.1" font-family="Liberation Sans, Arial, sans-serif" font-size="48.5" text-anchor="middle" clip-path="url(#k1)">10</text><text x="93.6" y="850.3" font-family="Liberation Sans, Arial, sans-serif" font-size="49.5" text-anchor="end">5</text><text x="93.6" y="966.4" font-family="Liberation Sans, Arial, sans-serif" font-size="49.5" text-anchor="end">4</text><text x="93.6" y="1080.7" font-family="Liberation Sans, Arial, sans-serif" font-size="49.5" text-anchor="end">3</text><text x="93.6" y="1192.6" font-family="Liberation Sans, Arial, sans-serif" font-size="49.5" text-anchor="end">2</text><text x="93.6" y="1309.5" font-family="Liberation Sans, Arial, sans-serif" font-size="49.5" text-anchor="end" clip-path="url(#k2)">1</text><text x="93.6" y="1418.7" font-family="Liberation Sans, Arial, sans-serif" font-size="49.5" text-anchor="end">0</text><text x="158.3" y="1477" font-family="Liberation Sans, Arial, sans-serif" font-size="51" text-anchor="middle">-5</text><text x="450.9" y="1477" font-family="Liberation Sans, Arial, sans-serif" font-size="51" text-anchor="middle">0</text><text x="739.0" y="1477" font-family="Liberation Sans, Arial, sans-serif" font-size="51" text-anchor="middle">5</text><text transform="translate(353,773.7) scale(1,1.065)" font-family="Liberation Sans, Arial, sans-serif" font-size="46.5">Fold Change [Log<tspan font-size="24" dy="9.8">2</tspan><tspan dy="-9.8">]</tspan></text><text transform="translate(352.9,1534.3) scale(1,1.03)" font-family="Liberation Sans, Arial, sans-serif" font-size="47.5">Fold Change [Log<tspan font-size="24" dy="9.8">2</tspan><tspan dy="-9.8">]</tspan></text><text transform="translate(41.5,570.1) rotate(-90) scale(1,1.065)" font-family="Liberation Sans, Arial, sans-serif" font-size="47">Significance [-Log<tspan font-size="24" dy="9.8">10</tspan><tspan dy="-9.8">]</tspan></text><text transform="translate(44,1351.3) rotate(-90) scale(1,1.055)" font-family="Liberation Sans, Arial, sans-serif" font-size="48.25">Significance [-Log<tspan font-size="24" dy="9.8">10</tspan><tspan dy="-9.8">]</tspan></text><text x="524.3" y="139.5" font-family="Liberation Sans, Arial, sans-serif" font-size="31" text-anchor="start">SCO5570</text><text x="558.6" y="202.0" font-family="Liberation Sans, Arial, sans-serif" font-size="31" text-anchor="start">SCO0174</text><text x="511.4" y="286.5" font-family="Liberation Sans, Arial, sans-serif" font-size="31" text-anchor="start">Rho</text><text x="434.2" y="328.0" font-family="Liberation Sans, Arial, sans-serif" font-size="31" text-anchor="start">BldC</text><text x="360.7" y="362.0" font-family="Liberation Sans, Arial, sans-serif" font-size="31" text-anchor="start">ApgA anti-</text><text x="505.3" y="362.0" font-family="Liberation Sans, Arial, sans-serif" font-size="30" text-anchor="start">σ</text><text x="414.2" y="401.0" font-family="Liberation Sans, Arial, sans-serif" font-size="30.5" text-anchor="start">HupA</text><text x="596.0" y="377.0" font-family="Liberation Sans, Arial, sans-serif" font-size="31" text-anchor="start">CarD</text><text transform="translate(610.4,327.5) scale(1.17,1)" font-family="Liberation Serif, Times New Roman, serif" font-size="33" text-anchor="start">α</text><text transform="translate(555.5,350.0) scale(1.06,1)" font-family="Liberation Serif, Times New Roman, serif" font-size="31" text-anchor="start">β</text><text x="713.2" y="295.0" font-family="Liberation Serif, Times New Roman, serif" font-size="33" text-anchor="start">ω</text><text transform="translate(525.5,397.2) scale(1.06,1)" font-family="Liberation Serif, Times New Roman, serif" font-size="31" text-anchor="start">β</text><text x="543.4" y="381.5" font-family="Liberation Sans, Arial, sans-serif" font-size="15.5" text-anchor="start">I</text><text x="949.0" y="96.0" font-family="Liberation Sans, Arial, sans-serif" font-size="28" text-anchor="start">σ</text><text x="967.6" y="80.4" font-family="Liberation Sans, Arial, sans-serif" font-size="16.3" text-anchor="start">E</text><text x="461.2" y="1161.5" font-family="Liberation Sans, Arial, sans-serif" font-size="31" text-anchor="start">HupA</text><text x="559.2" y="1125.0" font-family="Liberation Sans, Arial, sans-serif" font-size="31" text-anchor="start">Lsr2</text><text x="629.9" y="1172.0" font-family="Liberation Sans, Arial, sans-serif" font-size="31" text-anchor="start">NdgR</text><text x="604.9" y="1230.0" font-family="Liberation Sans, Arial, sans-serif" font-size="31" text-anchor="start">sIHF</text><text transform="translate(640.0,1090.0) scale(1.06,1)" font-family="Liberation Serif, Times New Roman, serif" font-size="31" text-anchor="start">β</text><text x="656.9" y="1073.6" font-family="Liberation Sans, Arial, sans-serif" font-size="16.5" text-anchor="start">I</text><text transform="translate(680.4,1083.0) scale(1.06,1)" font-family="Liberation Serif, Times New Roman, serif" font-size="31" text-anchor="start">β</text><text transform="translate(674.3,1130.0) scale(1.17,1)" font-family="Liberation Serif, Times New Roman, serif" font-size="33" text-anchor="start">α</text><text x="833.7" y="1111.3" font-family="Liberation Serif, Times New Roman, serif" font-size="33" text-anchor="start">ω</text><text transform="translate(931.9,1213.0) scale(1.13,1)" font-family="Liberation Sans, Arial, sans-serif" font-size="26.8" text-anchor="start">σ</text><text x="950.8" y="1197.4" font-family="Liberation Sans, Arial, sans-serif" font-size="15.7" text-anchor="start">E</text></g>
</svg></body></html>
